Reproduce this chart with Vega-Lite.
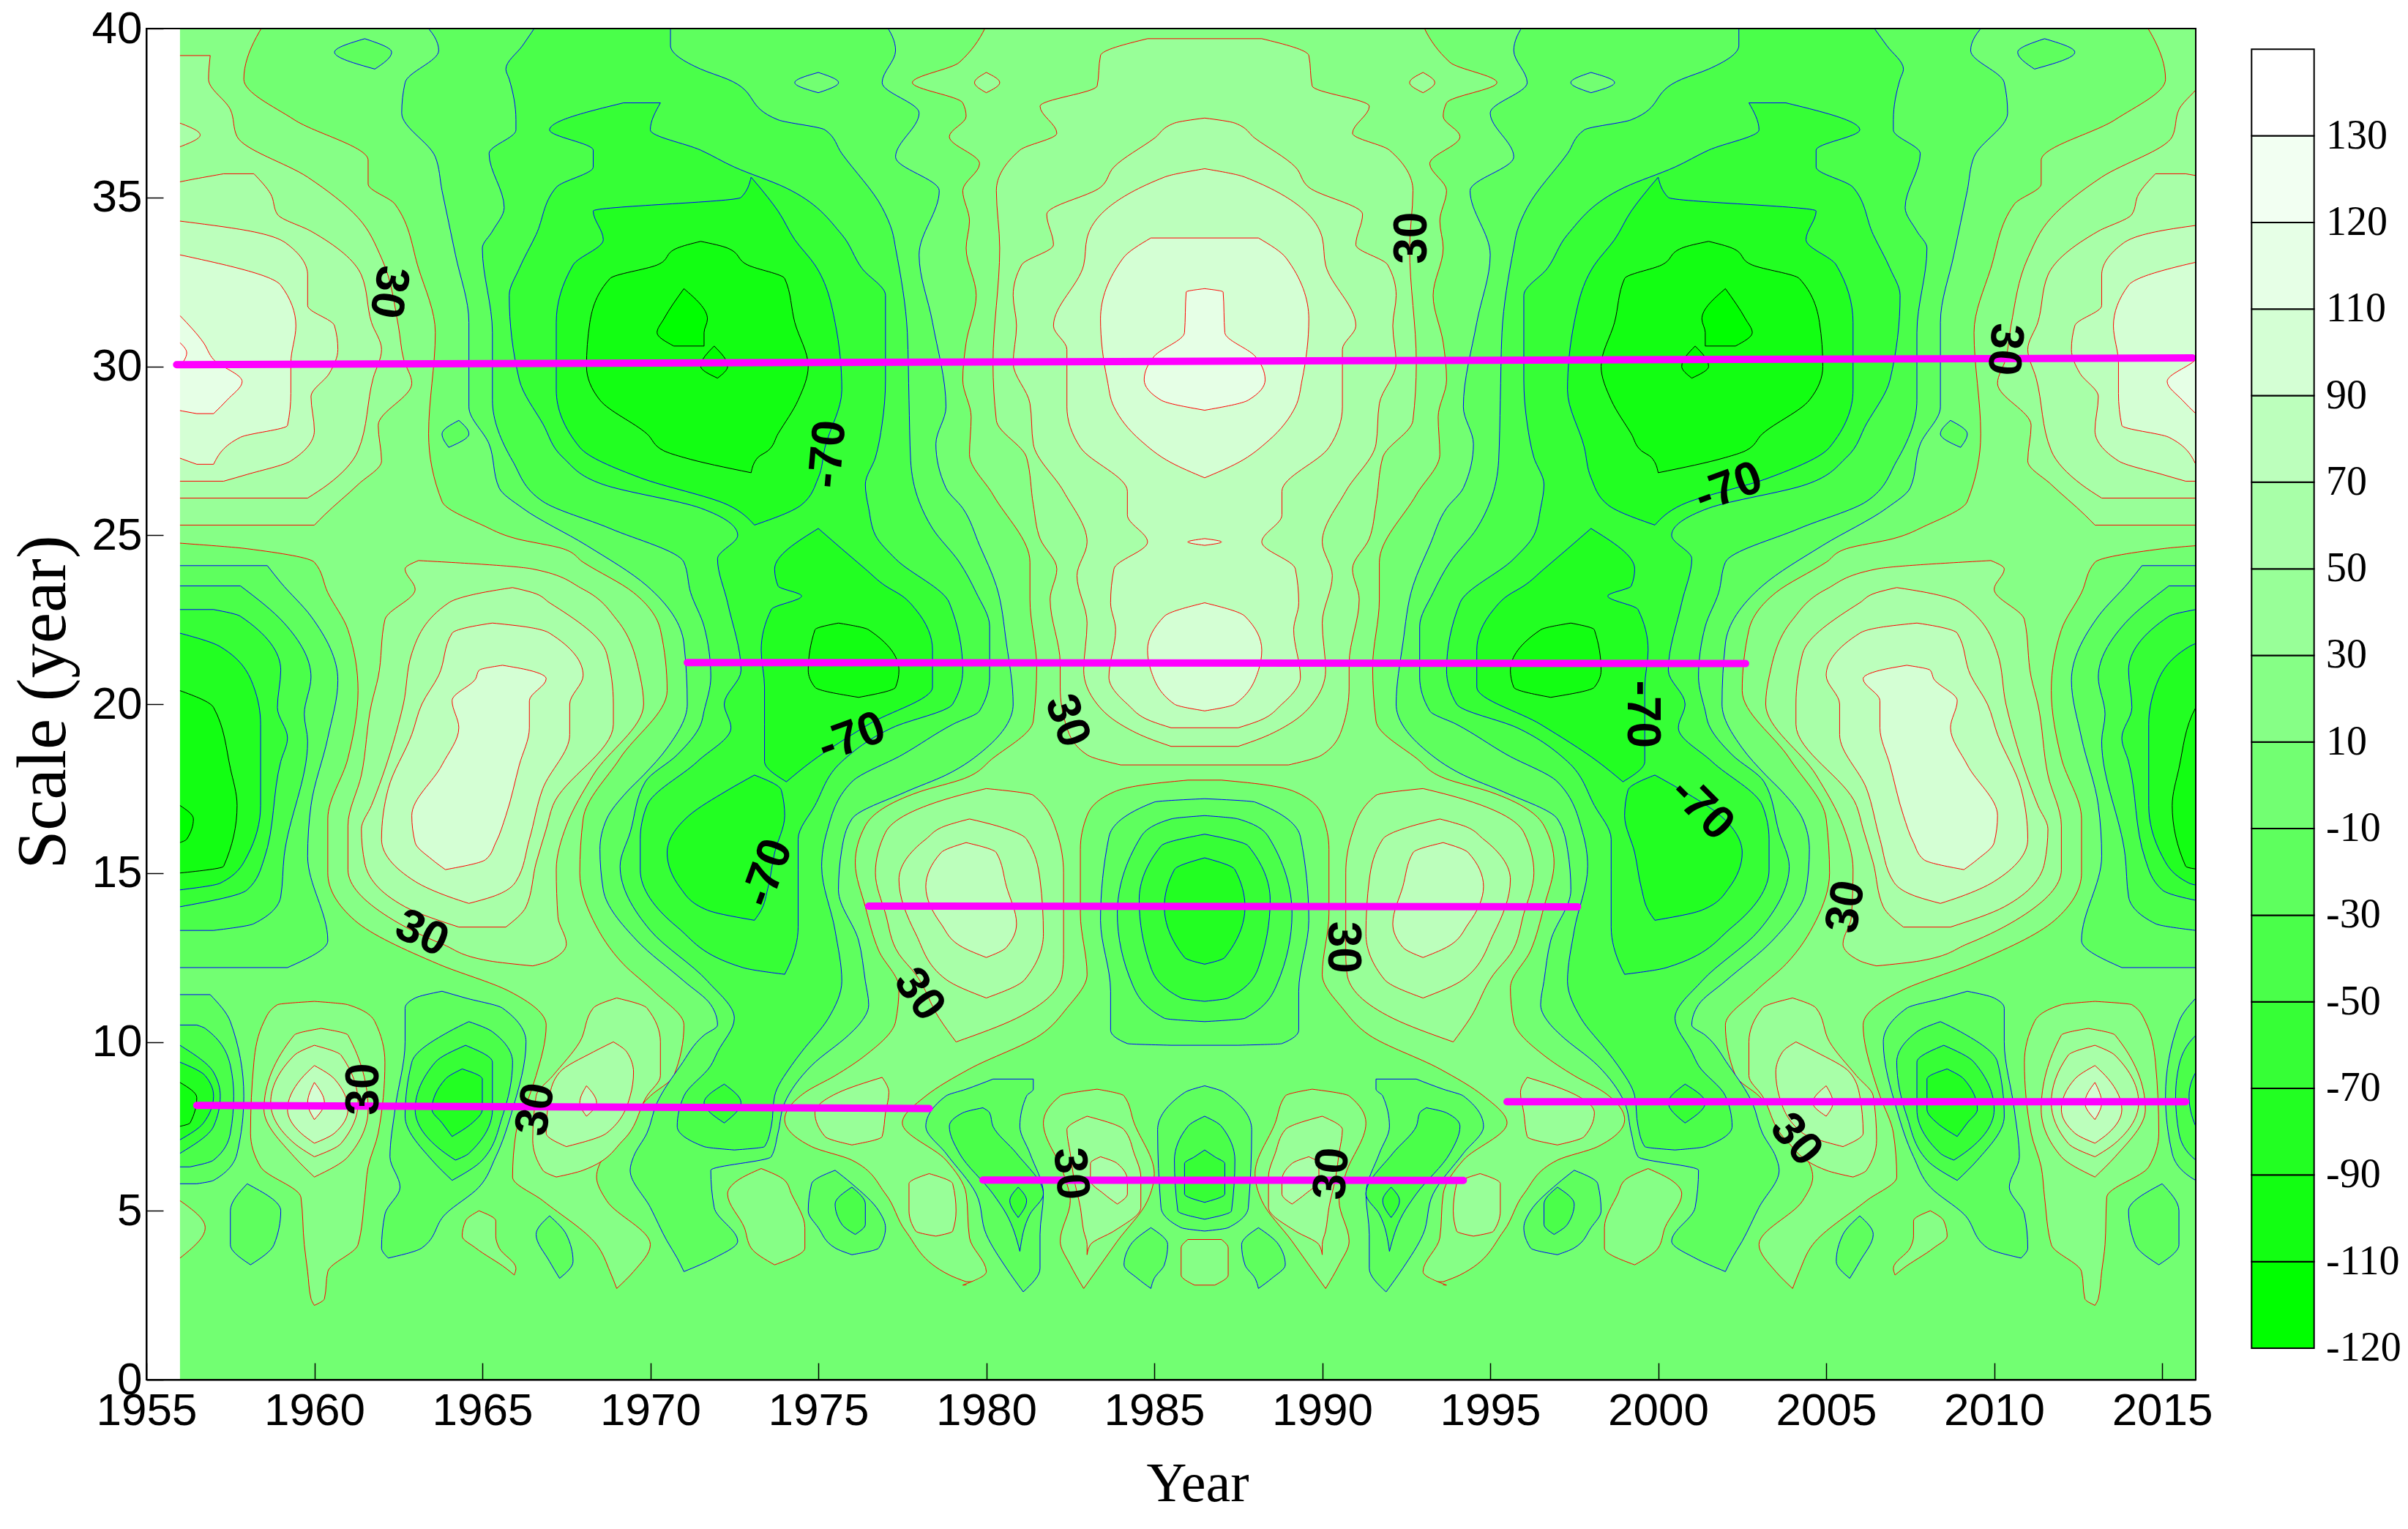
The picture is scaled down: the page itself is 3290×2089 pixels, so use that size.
{"$schema":"https://vega.github.io/schema/vega-lite/v6.json","width":2800,"height":1846,"autosize":{"type":"none"},"padding":{"left":200,"top":39,"right":290,"bottom":204},"background":"white","layer":[{"layer":[
{"data":{"values":[{"x":1955,"x2":2016,"y":0,"y2":40}]},"mark":{"type":"rect","fill":"#72ff72"},"encoding":{"x":{"field":"x","type":"quantitative","title":"Year","scale":{"domain":[1955,2016],"nice":false,"zero":false},"axis":{"values":[1955,1960,1965,1970,1975,1980,1985,1990,1995,2000,2005,2010,2015],"format":"d","grid":false,"zindex":1,"tickSize":-23,"tickColor":"black","tickWidth":1.5,"domainColor":"black","domainWidth":2,"labelColor":"black","labelFont":"Liberation Sans","labelFontSize":62,"labelPadding":35,"labelOverlap":false,"labelBound":false,"labelFlush":false,"titleFont":"Liberation Serif","titleFontWeight":"normal","titleFontSize":76,"titleColor":"black","titleX":1436,"titleY":142,"titleBaseline":"middle"}},"x2":{"field":"x2"},"y":{"field":"y","type":"quantitative","title":"Scale (year)","scale":{"domain":[0,40],"nice":false,"zero":false},"axis":{"values":[0,5,10,15,20,25,30,35,40],"grid":false,"zindex":1,"tickSize":-23,"tickColor":"black","tickWidth":1.5,"domainColor":"black","domainWidth":2,"labelColor":"black","labelFont":"Liberation Sans","labelFontSize":62,"labelPadding":29,"labelOverlap":false,"labelBound":false,"labelFlush":false,"titleFont":"Liberation Serif","titleFontWeight":"normal","titleFontSize":95,"titleColor":"black","titleX":-141,"titleY":920,"titleBaseline":"middle"}},"y2":{"field":"y2"}}},
{"data":{"values":[
{"g":1,"l":10,"y":41,"a":1955,"b":1959.1},{"g":1,"l":10,"y":38.5,"a":1955,"b":1957.9},{"g":1,"l":10,"y":37.3,"a":1955,"b":1959.4},{"g":1,"l":10,"y":36.1,"a":1955,"b":1961.6},{"g":1,"l":10,"y":35.4,"a":1955,"b":1961.6},{"g":1,"l":10,"y":34.8,"a":1955,"b":1962.4},{"g":1,"l":10,"y":32.9,"a":1955,"b":1963.1},{"g":1,"l":10,"y":31,"a":1955,"b":1963.6},{"g":1,"l":10,"y":28,"a":1955,"b":1963.4},{"g":1,"l":10,"y":26,"a":1955,"b":1963.8},{"g":1,"l":10,"y":25.3,"a":1955,"b":1965},{"g":1,"l":10,"y":24.9,"a":1955,"b":1966},{"g":1,"l":10,"y":24.6,"a":1958,"b":1967.4},{"g":1,"l":10,"y":24.2,"a":1960,"b":1968},{"g":1,"l":10,"y":23.3,"a":1960.4,"b":1969.5},{"g":1,"l":10,"y":22.2,"a":1961,"b":1970.3},{"g":1,"l":10,"y":20.4,"a":1961.3,"b":1970.5},{"g":1,"l":10,"y":18.4,"a":1961,"b":1969.1},{"g":1,"l":10,"y":16.6,"a":1960.4,"b":1968},{"g":1,"l":10,"y":15,"a":1960.4,"b":1967.9},{"g":1,"l":10,"y":13.6,"a":1961.2,"b":1968.3},{"g":1,"l":10,"y":12.3,"a":1963.7,"b":1969.2},{"g":1,"l":10,"y":11.5,"a":1965.8,"b":1970.1},{"g":1,"l":10,"y":10.5,"a":1966.9,"b":1971},{"g":1,"l":10,"y":9,"a":1966.6,"b":1970.7},{"g":1,"l":10,"y":8.4,"a":1966.4,"b":1970},{"g":1,"l":10,"y":7.3,"a":1966,"b":1969.1},{"g":1,"l":10,"y":6,"a":1965.9,"b":1968.4},{"g":1,"l":10,"y":5.3,"a":1966.8,"b":1968.7},{"g":1,"l":10,"y":4,"a":1968.4,"b":1970},{"g":1,"l":10,"y":3.2,"a":1968.8,"b":1969.5},{"g":1,"l":10,"y":2.7,"a":1969,"b":1969},
{"g":2,"l":10,"y":41,"a":2013.9,"b":2018},{"g":2,"l":10,"y":38.5,"a":2015.1,"b":2018},{"g":2,"l":10,"y":37.3,"a":2013.6,"b":2018},{"g":2,"l":10,"y":36.1,"a":2011.4,"b":2018},{"g":2,"l":10,"y":35.4,"a":2011.4,"b":2018},{"g":2,"l":10,"y":34.8,"a":2010.6,"b":2018},{"g":2,"l":10,"y":32.9,"a":2009.9,"b":2018},{"g":2,"l":10,"y":31,"a":2009.4,"b":2018},{"g":2,"l":10,"y":28,"a":2009.6,"b":2018},{"g":2,"l":10,"y":26,"a":2009.2,"b":2018},{"g":2,"l":10,"y":25.3,"a":2008,"b":2018},{"g":2,"l":10,"y":24.9,"a":2007,"b":2018},{"g":2,"l":10,"y":24.6,"a":2005.6,"b":2015},{"g":2,"l":10,"y":24.2,"a":2005,"b":2013},{"g":2,"l":10,"y":23.3,"a":2003.5,"b":2012.6},{"g":2,"l":10,"y":22.2,"a":2002.7,"b":2012},{"g":2,"l":10,"y":20.4,"a":2002.5,"b":2011.7},{"g":2,"l":10,"y":18.4,"a":2003.9,"b":2012},{"g":2,"l":10,"y":16.6,"a":2005,"b":2012.6},{"g":2,"l":10,"y":15,"a":2005.1,"b":2012.6},{"g":2,"l":10,"y":13.6,"a":2004.7,"b":2011.8},{"g":2,"l":10,"y":12.3,"a":2003.8,"b":2009.3},{"g":2,"l":10,"y":11.5,"a":2002.9,"b":2007.2},{"g":2,"l":10,"y":10.5,"a":2002,"b":2006.1},{"g":2,"l":10,"y":9,"a":2002.3,"b":2006.4},{"g":2,"l":10,"y":8.4,"a":2003,"b":2006.6},{"g":2,"l":10,"y":7.3,"a":2003.9,"b":2007},{"g":2,"l":10,"y":6,"a":2004.6,"b":2007.1},{"g":2,"l":10,"y":5.3,"a":2004.3,"b":2006.2},{"g":2,"l":10,"y":4,"a":2003,"b":2004.6},{"g":2,"l":10,"y":3.2,"a":2003.5,"b":2004.2},{"g":2,"l":10,"y":2.7,"a":2004,"b":2004},
{"g":3,"l":10,"y":41,"a":1980.3,"b":1992.7},{"g":3,"l":10,"y":39,"a":1979.2,"b":1993.8},{"g":3,"l":10,"y":38.4,"a":1977.8,"b":1995.2},{"g":3,"l":10,"y":37.8,"a":1979.3,"b":1993.7},{"g":3,"l":10,"y":37.4,"a":1979.4,"b":1993.6},{"g":3,"l":10,"y":36.8,"a":1978.9,"b":1994.1},{"g":3,"l":10,"y":36,"a":1979.8,"b":1993.2},{"g":3,"l":10,"y":35.2,"a":1979.3,"b":1993.7},{"g":3,"l":10,"y":34.3,"a":1979.5,"b":1993.5},{"g":3,"l":10,"y":33.5,"a":1979.4,"b":1993.6},{"g":3,"l":10,"y":32.1,"a":1979.7,"b":1993.3},{"g":3,"l":10,"y":30.7,"a":1979.4,"b":1993.6},{"g":3,"l":10,"y":29.6,"a":1979.3,"b":1993.7},{"g":3,"l":10,"y":28.5,"a":1979.55,"b":1993.45},{"g":3,"l":10,"y":27.4,"a":1979.5,"b":1993.5},{"g":3,"l":10,"y":26.2,"a":1980.2,"b":1992.8},{"g":3,"l":10,"y":24.2,"a":1981.3,"b":1991.7},{"g":3,"l":10,"y":23.1,"a":1981.3,"b":1991.7},{"g":3,"l":10,"y":21.1,"a":1981.5,"b":1991.5},{"g":3,"l":10,"y":19.5,"a":1981.4,"b":1991.6},{"g":3,"l":10,"y":18.4,"a":1980.2,"b":1992.8},{"g":3,"l":10,"y":17.8,"a":1979.35,"b":1993.65},{"g":3,"l":10,"y":17.4,"a":1978,"b":1995},{"g":3,"l":10,"y":16.4,"a":1976.4,"b":1996.6},{"g":3,"l":10,"y":15.3,"a":1976.1,"b":1996.9},{"g":3,"l":10,"y":14,"a":1976.4,"b":1996.6},{"g":3,"l":10,"y":12.7,"a":1976.8,"b":1996.2},{"g":3,"l":10,"y":11.6,"a":1977.4,"b":1995.6},{"g":3,"l":10,"y":10.6,"a":1977.3,"b":1995.7},{"g":3,"l":10,"y":9.6,"a":1976.4,"b":1996.6},{"g":3,"l":10,"y":9,"a":1975.5,"b":1997.5},{"g":3,"l":10,"y":8.5,"a":1974.6,"b":1998.4},{"g":3,"l":10,"y":7.7,"a":1974,"b":1999},{"g":3,"l":10,"y":6.9,"a":1974.8,"b":1998.2},{"g":3,"l":10,"y":6.5,"a":1976,"b":1997},{"g":3,"l":10,"y":5.5,"a":1977,"b":1996},{"g":3,"l":10,"y":4.4,"a":1977.6,"b":1995.4},{"g":3,"l":10,"y":3.1,"a":1978.9,"b":1994.1},{"g":3,"l":10,"y":2.9,"a":1979.4,"b":1993.6},
{"g":4,"l":0,"y":17.75,"a":1986,"b":1987},{"g":4,"l":0,"y":17.65,"a":1985,"b":1988},{"g":4,"l":0,"y":17.4,"a":1983.8,"b":1989.2},{"g":4,"l":0,"y":16.7,"a":1983,"b":1990},{"g":4,"l":0,"y":15.7,"a":1982.8,"b":1990.2},{"g":4,"l":0,"y":13.8,"a":1982.8,"b":1990.2},{"g":4,"l":0,"y":12,"a":1983,"b":1990},{"g":4,"l":0,"y":11,"a":1982.4,"b":1990.6},{"g":4,"l":0,"y":10.2,"a":1981.6,"b":1991.4},{"g":4,"l":0,"y":9.2,"a":1979.5,"b":1993.5},{"g":4,"l":0,"y":8.4,"a":1978.2,"b":1994.8},{"g":4,"l":0,"y":7.6,"a":1977.5,"b":1995.5},{"g":4,"l":0,"y":6.5,"a":1978.8,"b":1994.2},{"g":4,"l":0,"y":5.5,"a":1979.4,"b":1993.6},{"g":4,"l":0,"y":4.2,"a":1979.5,"b":1993.5},{"g":4,"l":0,"y":3.2,"a":1980,"b":1993},{"g":4,"l":0,"y":2.8,"a":1979.3,"b":1993.7},
{"g":5,"l":1,"y":3,"a":1979.8,"b":1993.2},{"g":5,"l":1,"y":2.6,"a":1979,"b":1994},
{"g":6,"l":10,"y":11.2,"a":1960,"b":1960},{"g":6,"l":10,"y":11.1,"a":1958.9,"b":1961},{"g":6,"l":10,"y":10.6,"a":1958.5,"b":1961.8},{"g":6,"l":10,"y":9.4,"a":1958.2,"b":1962.1},{"g":6,"l":10,"y":7.3,"a":1958.1,"b":1961.9},{"g":6,"l":10,"y":6.3,"a":1958.4,"b":1961.6},{"g":6,"l":10,"y":5.4,"a":1959.6,"b":1961.5},{"g":6,"l":10,"y":4,"a":1959.7,"b":1961.3},{"g":6,"l":10,"y":3.2,"a":1959.8,"b":1960.4},{"g":6,"l":10,"y":2.4,"a":1959.9,"b":1960.3},{"g":6,"l":10,"y":2.2,"a":1960,"b":1960},
{"g":7,"l":10,"y":11.2,"a":2013,"b":2013},{"g":7,"l":10,"y":11.1,"a":2012,"b":2014.1},{"g":7,"l":10,"y":10.6,"a":2011.2,"b":2014.5},{"g":7,"l":10,"y":9.4,"a":2010.9,"b":2014.8},{"g":7,"l":10,"y":7.3,"a":2011.1,"b":2014.9},{"g":7,"l":10,"y":6.3,"a":2011.4,"b":2014.6},{"g":7,"l":10,"y":5.4,"a":2011.5,"b":2013.35},{"g":7,"l":10,"y":4,"a":2011.7,"b":2013.3},{"g":7,"l":10,"y":3.2,"a":2012.6,"b":2013.2},{"g":7,"l":10,"y":2.4,"a":2012.7,"b":2013.1},{"g":7,"l":10,"y":2.2,"a":2013,"b":2013},
{"g":8,"l":10,"y":6.25,"a":1973.3,"b":1973.3},{"g":8,"l":10,"y":5.9,"a":1972.6,"b":1974},{"g":8,"l":10,"y":5.5,"a":1972.3,"b":1974.2},{"g":8,"l":10,"y":4.5,"a":1972.8,"b":1974.6},{"g":8,"l":10,"y":3.9,"a":1973,"b":1974.6},{"g":8,"l":10,"y":3.4,"a":1973.7,"b":1973.7},
{"g":9,"l":10,"y":6.25,"a":1999.7,"b":1999.7},{"g":9,"l":10,"y":5.9,"a":1999,"b":2000.4},{"g":9,"l":10,"y":5.5,"a":1998.8,"b":2000.7},{"g":9,"l":10,"y":4.5,"a":1998.4,"b":2000.2},{"g":9,"l":10,"y":3.9,"a":1998.4,"b":2000},{"g":9,"l":10,"y":3.4,"a":1999.3,"b":1999.3},
{"g":10,"l":10,"y":5,"a":1964.9,"b":1964.9},{"g":10,"l":10,"y":4.7,"a":1964.5,"b":1965.4},{"g":10,"l":10,"y":4.25,"a":1964.4,"b":1965.4},{"g":10,"l":10,"y":3.9,"a":1964.8,"b":1965.5},{"g":10,"l":10,"y":3.3,"a":1965.7,"b":1966},{"g":10,"l":10,"y":3.1,"a":1965.95,"b":1965.95},
{"g":11,"l":10,"y":5,"a":2008.1,"b":2008.1},{"g":11,"l":10,"y":4.7,"a":2007.6,"b":2008.5},{"g":11,"l":10,"y":4.25,"a":2007.6,"b":2008.6},{"g":11,"l":10,"y":3.9,"a":2007.5,"b":2008.2},{"g":11,"l":10,"y":3.3,"a":2007,"b":2007.3},{"g":11,"l":10,"y":3.1,"a":2007.05,"b":2007.05},
{"g":12,"l":10,"y":5.3,"a":1955,"b":1956},{"g":12,"l":10,"y":4.5,"a":1955,"b":1956.75},{"g":12,"l":10,"y":3.6,"a":1955,"b":1956},
{"g":13,"l":10,"y":5.3,"a":2017,"b":2018},{"g":13,"l":10,"y":4.5,"a":2016.25,"b":2018},{"g":13,"l":10,"y":3.6,"a":2017,"b":2018},
{"g":14,"l":10,"y":8.6,"a":1983.3,"b":1983.3},{"g":14,"l":10,"y":8.4,"a":1982.2,"b":1984.1},{"g":14,"l":10,"y":7.6,"a":1981.7,"b":1984.4},{"g":14,"l":10,"y":6.1,"a":1982.3,"b":1985},{"g":14,"l":10,"y":5.3,"a":1982.5,"b":1984.8},{"g":14,"l":10,"y":4.1,"a":1982.2,"b":1983.9},{"g":14,"l":10,"y":3.4,"a":1982.5,"b":1983.4},{"g":14,"l":10,"y":2.7,"a":1982.9,"b":1982.9},
{"g":15,"l":10,"y":8.6,"a":1989.7,"b":1989.7},{"g":15,"l":10,"y":8.4,"a":1988.9,"b":1990.8},{"g":15,"l":10,"y":7.6,"a":1988.6,"b":1991.3},{"g":15,"l":10,"y":6.1,"a":1988,"b":1990.7},{"g":15,"l":10,"y":5.3,"a":1988.2,"b":1990.5},{"g":15,"l":10,"y":4.1,"a":1989.1,"b":1990.8},{"g":15,"l":10,"y":3.4,"a":1989.6,"b":1990.5},{"g":15,"l":10,"y":2.7,"a":1990.1,"b":1990.1},
{"g":16,"l":10,"y":4.15,"a":1986,"b":1987},{"g":16,"l":10,"y":3.9,"a":1985.8,"b":1987.2},{"g":16,"l":10,"y":3.1,"a":1985.8,"b":1987.2},{"g":16,"l":10,"y":2.8,"a":1986.2,"b":1986.8},
{"g":20,"l":-10,"y":41,"a":1962.2,"b":1976.2},{"g":20,"l":-10,"y":39.35,"a":1963.7,"b":1977.3},{"g":20,"l":-10,"y":38.4,"a":1962.7,"b":1976.9},{"g":20,"l":-10,"y":37.5,"a":1962.6,"b":1978},{"g":20,"l":-10,"y":36.2,"a":1963.6,"b":1977.3},{"g":20,"l":-10,"y":35.2,"a":1963.8,"b":1978.6},{"g":20,"l":-10,"y":33.3,"a":1964.2,"b":1978},{"g":20,"l":-10,"y":31.3,"a":1964.6,"b":1978.4},{"g":20,"l":-10,"y":28.8,"a":1964.6,"b":1978.8},{"g":20,"l":-10,"y":27.7,"a":1965.2,"b":1978.5},{"g":20,"l":-10,"y":26.4,"a":1965.5,"b":1978.8},{"g":20,"l":-10,"y":25.8,"a":1966.2,"b":1979.3},{"g":20,"l":-10,"y":24.7,"a":1968.1,"b":1979.8},{"g":20,"l":-10,"y":23.5,"a":1969.9,"b":1980.3},{"g":20,"l":-10,"y":21.8,"a":1971,"b":1980.6},{"g":20,"l":-10,"y":20,"a":1971.1,"b":1980.8},{"g":20,"l":-10,"y":18.7,"a":1970.5,"b":1980},{"g":20,"l":-10,"y":17.9,"a":1969.8,"b":1978.8},{"g":20,"l":-10,"y":17.4,"a":1969.3,"b":1977.6},{"g":20,"l":-10,"y":16.6,"a":1968.7,"b":1976},{"g":20,"l":-10,"y":15.7,"a":1968.5,"b":1975.7},{"g":20,"l":-10,"y":14.5,"a":1968.6,"b":1975.6},{"g":20,"l":-10,"y":13,"a":1969.6,"b":1976.2},{"g":20,"l":-10,"y":11.8,"a":1971,"b":1976.4},{"g":20,"l":-10,"y":11.1,"a":1971.8,"b":1976.5},{"g":20,"l":-10,"y":10.5,"a":1972,"b":1976.2},{"g":20,"l":-10,"y":10.2,"a":1971.6,"b":1975.9},{"g":20,"l":-10,"y":9.3,"a":1970.9,"b":1974.8},{"g":20,"l":-10,"y":8.2,"a":1970.2,"b":1974},{"g":20,"l":-10,"y":7.3,"a":1969.9,"b":1973.8},{"g":20,"l":-10,"y":6.6,"a":1969.5,"b":1973.6},{"g":20,"l":-10,"y":6.2,"a":1969.4,"b":1971.8},{"g":20,"l":-10,"y":5.1,"a":1970,"b":1971.9},{"g":20,"l":-10,"y":4.1,"a":1970.5,"b":1972.6},{"g":20,"l":-10,"y":3.6,"a":1970.8,"b":1971.9},{"g":20,"l":-10,"y":3.2,"a":1971,"b":1971},
{"g":21,"l":-10,"y":41,"a":1996.8,"b":2010.8},{"g":21,"l":-10,"y":39.35,"a":1995.7,"b":2009.3},{"g":21,"l":-10,"y":38.4,"a":1996.1,"b":2010.3},{"g":21,"l":-10,"y":37.5,"a":1995,"b":2010.4},{"g":21,"l":-10,"y":36.2,"a":1995.7,"b":2009.4},{"g":21,"l":-10,"y":35.2,"a":1994.4,"b":2009.2},{"g":21,"l":-10,"y":33.3,"a":1995,"b":2008.8},{"g":21,"l":-10,"y":31.3,"a":1994.6,"b":2008.4},{"g":21,"l":-10,"y":28.8,"a":1994.2,"b":2008.4},{"g":21,"l":-10,"y":27.7,"a":1994.5,"b":2007.8},{"g":21,"l":-10,"y":26.4,"a":1994.2,"b":2007.5},{"g":21,"l":-10,"y":25.8,"a":1993.7,"b":2006.8},{"g":21,"l":-10,"y":24.7,"a":1993.2,"b":2004.9},{"g":21,"l":-10,"y":23.5,"a":1992.7,"b":2003.1},{"g":21,"l":-10,"y":21.8,"a":1992.4,"b":2002},{"g":21,"l":-10,"y":20,"a":1992.2,"b":2001.9},{"g":21,"l":-10,"y":18.7,"a":1993,"b":2002.5},{"g":21,"l":-10,"y":17.9,"a":1994.2,"b":2003.2},{"g":21,"l":-10,"y":17.4,"a":1995.4,"b":2003.7},{"g":21,"l":-10,"y":16.6,"a":1997,"b":2004.3},{"g":21,"l":-10,"y":15.7,"a":1997.3,"b":2004.5},{"g":21,"l":-10,"y":14.5,"a":1997.4,"b":2004.4},{"g":21,"l":-10,"y":13,"a":1996.8,"b":2003.4},{"g":21,"l":-10,"y":11.8,"a":1996.6,"b":2002},{"g":21,"l":-10,"y":11.1,"a":1996.5,"b":2001.2},{"g":21,"l":-10,"y":10.5,"a":1996.8,"b":2001},{"g":21,"l":-10,"y":10.2,"a":1997.1,"b":2001.4},{"g":21,"l":-10,"y":9.3,"a":1998.2,"b":2002.1},{"g":21,"l":-10,"y":8.2,"a":1999,"b":2002.8},{"g":21,"l":-10,"y":7.3,"a":1999.2,"b":2003.1},{"g":21,"l":-10,"y":6.6,"a":1999.4,"b":2003.5},{"g":21,"l":-10,"y":6.2,"a":2001.2,"b":2003.6},{"g":21,"l":-10,"y":5.1,"a":2001.1,"b":2003},{"g":21,"l":-10,"y":4.1,"a":2000.4,"b":2002.5},{"g":21,"l":-10,"y":3.6,"a":2001.1,"b":2002.2},{"g":21,"l":-10,"y":3.2,"a":2002,"b":2002},
{"g":22,"l":-10,"y":24.1,"a":1955,"b":1958.6},{"g":22,"l":-10,"y":23.6,"a":1955,"b":1959},{"g":22,"l":-10,"y":22.6,"a":1955,"b":1959.9},{"g":22,"l":-10,"y":20.7,"a":1955,"b":1960.7},{"g":22,"l":-10,"y":19,"a":1955,"b":1960.4},{"g":22,"l":-10,"y":17,"a":1955,"b":1959.9},{"g":22,"l":-10,"y":15.5,"a":1955,"b":1959.8},{"g":22,"l":-10,"y":13,"a":1955,"b":1960.4},{"g":22,"l":-10,"y":12.2,"a":1955,"b":1959.2},
{"g":23,"l":-10,"y":24.1,"a":2014.4,"b":2018},{"g":23,"l":-10,"y":23.6,"a":2014,"b":2018},{"g":23,"l":-10,"y":22.6,"a":2013.1,"b":2018},{"g":23,"l":-10,"y":20.7,"a":2012.3,"b":2018},{"g":23,"l":-10,"y":19,"a":2012.6,"b":2018},{"g":23,"l":-10,"y":17,"a":2013.1,"b":2018},{"g":23,"l":-10,"y":15.5,"a":2013.2,"b":2018},{"g":23,"l":-10,"y":13,"a":2012.6,"b":2018},{"g":23,"l":-10,"y":12.2,"a":2013.8,"b":2018},
{"g":24,"l":-10,"y":11.4,"a":1955,"b":1956.9},{"g":24,"l":-10,"y":10.6,"a":1955,"b":1957.5},{"g":24,"l":-10,"y":8.4,"a":1955,"b":1957.9},{"g":24,"l":-10,"y":6.7,"a":1955,"b":1957.7},{"g":24,"l":-10,"y":5.9,"a":1955,"b":1957},{"g":24,"l":-10,"y":5.8,"a":1955,"b":1956.5},
{"g":25,"l":-10,"y":11.4,"a":2016.1,"b":2018},{"g":25,"l":-10,"y":10.6,"a":2015.5,"b":2018},{"g":25,"l":-10,"y":8.4,"a":2015.1,"b":2018},{"g":25,"l":-10,"y":6.7,"a":2015.3,"b":2018},{"g":25,"l":-10,"y":5.9,"a":2016,"b":2018},{"g":25,"l":-10,"y":5.8,"a":2016.5,"b":2018},
{"g":26,"l":-10,"y":11.5,"a":1963.8,"b":1963.8},{"g":26,"l":-10,"y":11.3,"a":1963,"b":1964.5},{"g":26,"l":-10,"y":11,"a":1962.7,"b":1965.6},{"g":26,"l":-10,"y":10,"a":1962.7,"b":1966.3},{"g":26,"l":-10,"y":8,"a":1962.4,"b":1965.9},{"g":26,"l":-10,"y":6.6,"a":1962.25,"b":1965.4},{"g":26,"l":-10,"y":5.7,"a":1962.55,"b":1964.9},{"g":26,"l":-10,"y":4.9,"a":1962.1,"b":1963.9},{"g":26,"l":-10,"y":3.9,"a":1962,"b":1963.2},{"g":26,"l":-10,"y":3.6,"a":1962.2,"b":1962.2},
{"g":27,"l":-10,"y":11.5,"a":2009.2,"b":2009.2},{"g":27,"l":-10,"y":11.3,"a":2008.5,"b":2010},{"g":27,"l":-10,"y":11,"a":2007.4,"b":2010.3},{"g":27,"l":-10,"y":10,"a":2006.7,"b":2010.3},{"g":27,"l":-10,"y":8,"a":2007.1,"b":2010.6},{"g":27,"l":-10,"y":6.6,"a":2007.6,"b":2010.75},{"g":27,"l":-10,"y":5.7,"a":2008.1,"b":2010.45},{"g":27,"l":-10,"y":4.9,"a":2009.1,"b":2010.9},{"g":27,"l":-10,"y":3.9,"a":2009.8,"b":2011},{"g":27,"l":-10,"y":3.6,"a":2010.8,"b":2010.8},
{"g":28,"l":-10,"y":39.7,"a":1961.5,"b":1961.5},{"g":28,"l":-10,"y":39.3,"a":1960.6,"b":1962.3},{"g":28,"l":-10,"y":38.8,"a":1961.8,"b":1961.8},
{"g":29,"l":-10,"y":39.7,"a":2011.5,"b":2011.5},{"g":29,"l":-10,"y":39.3,"a":2010.7,"b":2012.4},{"g":29,"l":-10,"y":38.8,"a":2011.2,"b":2011.2},
{"g":30,"l":-10,"y":5.8,"a":1958,"b":1958},{"g":30,"l":-10,"y":5,"a":1957.5,"b":1959},{"g":30,"l":-10,"y":4,"a":1957.5,"b":1958.8},{"g":30,"l":-10,"y":3.4,"a":1958.1,"b":1958.1},
{"g":31,"l":-10,"y":5.8,"a":2015,"b":2015},{"g":31,"l":-10,"y":5,"a":2014,"b":2015.5},{"g":31,"l":-10,"y":4,"a":2014.2,"b":2015.5},{"g":31,"l":-10,"y":3.4,"a":2014.9,"b":2014.9},
{"g":32,"l":-10,"y":4.85,"a":1967,"b":1967},{"g":32,"l":-10,"y":4.3,"a":1966.6,"b":1967.5},{"g":32,"l":-10,"y":3.5,"a":1967,"b":1967.7},{"g":32,"l":-10,"y":3,"a":1967.3,"b":1967.3},
{"g":33,"l":-10,"y":4.85,"a":2006,"b":2006},{"g":33,"l":-10,"y":4.3,"a":2005.5,"b":2006.4},{"g":33,"l":-10,"y":3.5,"a":2005.3,"b":2006},{"g":33,"l":-10,"y":3,"a":2005.7,"b":2005.7},
{"g":34,"l":-10,"y":6.2,"a":1975.5,"b":1975.5},{"g":34,"l":-10,"y":5.8,"a":1974.8,"b":1976},{"g":34,"l":-10,"y":5,"a":1974.7,"b":1976.8},{"g":34,"l":-10,"y":4.5,"a":1975,"b":1977},{"g":34,"l":-10,"y":3.9,"a":1975.5,"b":1976.8},{"g":34,"l":-10,"y":3.7,"a":1976,"b":1976},
{"g":35,"l":-10,"y":6.2,"a":1997.5,"b":1997.5},{"g":35,"l":-10,"y":5.8,"a":1997,"b":1998.2},{"g":35,"l":-10,"y":5,"a":1996.2,"b":1998.3},{"g":35,"l":-10,"y":4.5,"a":1996,"b":1998},{"g":35,"l":-10,"y":3.9,"a":1996.2,"b":1997.5},{"g":35,"l":-10,"y":3.7,"a":1997,"b":1997},
{"g":36,"l":-10,"y":8.9,"a":1980.2,"b":1981.4},{"g":36,"l":-10,"y":8.6,"a":1979.4,"b":1981.4},{"g":36,"l":-10,"y":8.4,"a":1978.8,"b":1981.2},{"g":36,"l":-10,"y":7.5,"a":1978.2,"b":1981},{"g":36,"l":-10,"y":6.7,"a":1978.8,"b":1981.3},{"g":36,"l":-10,"y":5.5,"a":1979.7,"b":1981.7},{"g":36,"l":-10,"y":4.3,"a":1980,"b":1981.6},{"g":36,"l":-10,"y":3.3,"a":1980.6,"b":1981.6},{"g":36,"l":-10,"y":2.6,"a":1981.1,"b":1981.1},
{"g":37,"l":-10,"y":8.9,"a":1991.6,"b":1992.8},{"g":37,"l":-10,"y":8.6,"a":1991.6,"b":1993.6},{"g":37,"l":-10,"y":8.4,"a":1991.8,"b":1994.2},{"g":37,"l":-10,"y":7.5,"a":1992,"b":1994.8},{"g":37,"l":-10,"y":6.7,"a":1991.7,"b":1994.2},{"g":37,"l":-10,"y":5.5,"a":1991.3,"b":1993.3},{"g":37,"l":-10,"y":4.3,"a":1991.4,"b":1993},{"g":37,"l":-10,"y":3.3,"a":1991.4,"b":1992.4},{"g":37,"l":-10,"y":2.6,"a":1991.9,"b":1991.9},
{"g":38,"l":-10,"y":8.7,"a":1986.5,"b":1986.5},{"g":38,"l":-10,"y":8.5,"a":1985.9,"b":1987.1},{"g":38,"l":-10,"y":7.4,"a":1985.1,"b":1987.9},{"g":38,"l":-10,"y":5.1,"a":1985.2,"b":1987.8},{"g":38,"l":-10,"y":4.5,"a":1985.8,"b":1987.2},{"g":38,"l":-10,"y":4.4,"a":1986.5,"b":1986.5},
{"g":39,"l":-10,"y":4.5,"a":1984.9,"b":1984.9},{"g":39,"l":-10,"y":4,"a":1984.3,"b":1985.4},{"g":39,"l":-10,"y":3.4,"a":1984.1,"b":1985.3},{"g":39,"l":-10,"y":3,"a":1984.5,"b":1985},{"g":39,"l":-10,"y":2.7,"a":1984.9,"b":1984.9},
{"g":40,"l":-10,"y":4.5,"a":1988.1,"b":1988.1},{"g":40,"l":-10,"y":4,"a":1987.6,"b":1988.7},{"g":40,"l":-10,"y":3.4,"a":1987.7,"b":1988.9},{"g":40,"l":-10,"y":3,"a":1988,"b":1988.5},{"g":40,"l":-10,"y":2.7,"a":1988.1,"b":1988.1},
{"g":41,"l":-10,"y":17.2,"a":1986.5,"b":1986.5},{"g":41,"l":-10,"y":17.1,"a":1985,"b":1988},{"g":41,"l":-10,"y":16.07,"a":1983.65,"b":1989.35},{"g":41,"l":-10,"y":13.6,"a":1983.4,"b":1989.6},{"g":41,"l":-10,"y":11.5,"a":1983.7,"b":1989.3},{"g":41,"l":-10,"y":10.35,"a":1983.7,"b":1989.3},{"g":41,"l":-10,"y":9.95,"a":1984.2,"b":1988.8},{"g":41,"l":-10,"y":9.9,"a":1985.5,"b":1987.5},
{"g":42,"l":-10,"y":28.4,"a":1964.3,"b":1964.3},{"g":42,"l":-10,"y":28,"a":1963.8,"b":1964.6},{"g":42,"l":-10,"y":27.6,"a":1964,"b":1964},
{"g":43,"l":-10,"y":28.4,"a":2008.7,"b":2008.7},{"g":43,"l":-10,"y":28,"a":2008.4,"b":2009.2},{"g":43,"l":-10,"y":27.6,"a":2009,"b":2009},
{"g":44,"l":-1,"y":38.7,"a":1975,"b":1975},{"g":44,"l":-1,"y":38.4,"a":1974.3,"b":1975.6},{"g":44,"l":-1,"y":38.1,"a":1975,"b":1975},
{"g":45,"l":-1,"y":38.7,"a":1998,"b":1998},{"g":45,"l":-1,"y":38.4,"a":1997.4,"b":1998.7},{"g":45,"l":-1,"y":38.1,"a":1998,"b":1998},
{"g":50,"l":-30,"y":41,"a":1967.2,"b":1970.6},{"g":50,"l":-30,"y":39.5,"a":1966.2,"b":1970.6},{"g":50,"l":-30,"y":38.8,"a":1965.7,"b":1971.5},{"g":50,"l":-30,"y":38.5,"a":1965.8,"b":1972.3},{"g":50,"l":-30,"y":37.3,"a":1966,"b":1973.8},{"g":50,"l":-30,"y":37,"a":1966,"b":1975.2},{"g":50,"l":-30,"y":36.3,"a":1965.2,"b":1975.7},{"g":50,"l":-30,"y":34.7,"a":1965.65,"b":1976.9},{"g":50,"l":-30,"y":34,"a":1965.3,"b":1977.2},{"g":50,"l":-30,"y":33.5,"a":1965,"b":1977.3},{"g":50,"l":-30,"y":31,"a":1965.3,"b":1977.65},{"g":50,"l":-30,"y":29,"a":1965.3,"b":1977.7},{"g":50,"l":-30,"y":27.2,"a":1965.9,"b":1977.75},{"g":50,"l":-30,"y":26,"a":1966.8,"b":1978},{"g":50,"l":-30,"y":25.2,"a":1968.8,"b":1978.4},{"g":50,"l":-30,"y":24.2,"a":1971,"b":1979.2},{"g":50,"l":-30,"y":23.3,"a":1971.2,"b":1979.7},{"g":50,"l":-30,"y":22.3,"a":1971.6,"b":1980.1},{"g":50,"l":-30,"y":20.8,"a":1971.8,"b":1980.1},{"g":50,"l":-30,"y":19.8,"a":1971.6,"b":1979.8},{"g":50,"l":-30,"y":19.4,"a":1971.5,"b":1979},{"g":50,"l":-30,"y":18.5,"a":1970.8,"b":1977.5},{"g":50,"l":-30,"y":17.7,"a":1969.85,"b":1976},{"g":50,"l":-30,"y":16.2,"a":1969.4,"b":1975.25},{"g":50,"l":-30,"y":15.2,"a":1969.1,"b":1975.1},{"g":50,"l":-30,"y":13.3,"a":1970,"b":1975.5},{"g":50,"l":-30,"y":11.8,"a":1971.7,"b":1975.7},{"g":50,"l":-30,"y":10.7,"a":1972.5,"b":1975.3},{"g":50,"l":-30,"y":9.7,"a":1972,"b":1974.5},{"g":50,"l":-30,"y":9.3,"a":1971.8,"b":1974.2},{"g":50,"l":-30,"y":8.4,"a":1971,"b":1973.7},{"g":50,"l":-30,"y":7.5,"a":1970.8,"b":1973.6},{"g":50,"l":-30,"y":6.9,"a":1971.6,"b":1973.4},{"g":50,"l":-30,"y":6.8,"a":1972.5,"b":1972.5},
{"g":51,"l":-30,"y":41,"a":2002.4,"b":2005.7},{"g":51,"l":-30,"y":39.5,"a":2002.4,"b":2006.8},{"g":51,"l":-30,"y":38.8,"a":2001.5,"b":2007.3},{"g":51,"l":-30,"y":38.5,"a":2000.7,"b":2007.2},{"g":51,"l":-30,"y":37.3,"a":1999.2,"b":2007},{"g":51,"l":-30,"y":37,"a":1997.8,"b":2007},{"g":51,"l":-30,"y":36.3,"a":1997.3,"b":2007.8},{"g":51,"l":-30,"y":34.7,"a":1996.1,"b":2007.35},{"g":51,"l":-30,"y":34,"a":1995.8,"b":2007.7},{"g":51,"l":-30,"y":33.5,"a":1995.7,"b":2008},{"g":51,"l":-30,"y":31,"a":1995.35,"b":2007.7},{"g":51,"l":-30,"y":29,"a":1995.3,"b":2007.7},{"g":51,"l":-30,"y":27.2,"a":1995.25,"b":2007.1},{"g":51,"l":-30,"y":26,"a":1995,"b":2006.2},{"g":51,"l":-30,"y":25.2,"a":1994.6,"b":2004.2},{"g":51,"l":-30,"y":24.2,"a":1993.8,"b":2002},{"g":51,"l":-30,"y":23.3,"a":1993.3,"b":2001.8},{"g":51,"l":-30,"y":22.3,"a":1992.9,"b":2001.4},{"g":51,"l":-30,"y":20.8,"a":1992.9,"b":2001.2},{"g":51,"l":-30,"y":19.8,"a":1993.2,"b":2001.4},{"g":51,"l":-30,"y":19.4,"a":1994,"b":2001.5},{"g":51,"l":-30,"y":18.5,"a":1995.5,"b":2002.2},{"g":51,"l":-30,"y":17.7,"a":1997,"b":2003.15},{"g":51,"l":-30,"y":16.2,"a":1997.75,"b":2003.6},{"g":51,"l":-30,"y":15.2,"a":1997.9,"b":2003.9},{"g":51,"l":-30,"y":13.3,"a":1997.5,"b":2003},{"g":51,"l":-30,"y":11.8,"a":1997.3,"b":2001.3},{"g":51,"l":-30,"y":10.7,"a":1997.7,"b":2000.5},{"g":51,"l":-30,"y":9.7,"a":1998.5,"b":2001},{"g":51,"l":-30,"y":9.3,"a":1998.8,"b":2001.2},{"g":51,"l":-30,"y":8.4,"a":1999.3,"b":2002},{"g":51,"l":-30,"y":7.5,"a":1999.4,"b":2002.2},{"g":51,"l":-30,"y":6.9,"a":1999.6,"b":2001.4},{"g":51,"l":-30,"y":6.8,"a":2000.5,"b":2000.5},
{"g":52,"l":-30,"y":23.5,"a":1955,"b":1957.8},{"g":52,"l":-30,"y":22.4,"a":1955,"b":1959.1},{"g":52,"l":-30,"y":20.8,"a":1955,"b":1959.9},{"g":52,"l":-30,"y":19.7,"a":1955,"b":1959.7},{"g":52,"l":-30,"y":18.9,"a":1955,"b":1959.8},{"g":52,"l":-30,"y":15.5,"a":1955,"b":1959.1},{"g":52,"l":-30,"y":14.3,"a":1955,"b":1959},{"g":52,"l":-30,"y":13.5,"a":1955,"b":1958.2},{"g":52,"l":-30,"y":13.3,"a":1955,"b":1957},
{"g":53,"l":-30,"y":23.5,"a":2015.2,"b":2018},{"g":53,"l":-30,"y":22.4,"a":2013.9,"b":2018},{"g":53,"l":-30,"y":20.8,"a":2013.1,"b":2018},{"g":53,"l":-30,"y":19.7,"a":2013.3,"b":2018},{"g":53,"l":-30,"y":18.9,"a":2013.2,"b":2018},{"g":53,"l":-30,"y":15.5,"a":2013.9,"b":2018},{"g":53,"l":-30,"y":14.3,"a":2014,"b":2018},{"g":53,"l":-30,"y":13.5,"a":2014.8,"b":2018},{"g":53,"l":-30,"y":13.3,"a":2016,"b":2018},
{"g":54,"l":-30,"y":10.5,"a":1955,"b":1956.5},{"g":54,"l":-30,"y":10.4,"a":1955,"b":1956.75},{"g":54,"l":-30,"y":9.3,"a":1955,"b":1957.5},{"g":54,"l":-30,"y":8.4,"a":1955,"b":1957.6},{"g":54,"l":-30,"y":7.3,"a":1955,"b":1957.5},{"g":54,"l":-30,"y":6.5,"a":1955,"b":1957},{"g":54,"l":-30,"y":6.3,"a":1955,"b":1956.3},
{"g":55,"l":-30,"y":10.5,"a":2016.5,"b":2018},{"g":55,"l":-30,"y":10.4,"a":2016.25,"b":2018},{"g":55,"l":-30,"y":9.3,"a":2015.5,"b":2018},{"g":55,"l":-30,"y":8.4,"a":2015.4,"b":2018},{"g":55,"l":-30,"y":7.3,"a":2015.5,"b":2018},{"g":55,"l":-30,"y":6.5,"a":2016,"b":2018},{"g":55,"l":-30,"y":6.3,"a":2016.7,"b":2018},
{"g":56,"l":-30,"y":10.6,"a":1964.6,"b":1964.6},{"g":56,"l":-30,"y":10.3,"a":1964,"b":1965.3},{"g":56,"l":-30,"y":9.4,"a":1962.9,"b":1965.9},{"g":56,"l":-30,"y":7.8,"a":1962.7,"b":1965.6},{"g":56,"l":-30,"y":6.5,"a":1963.5,"b":1965},{"g":56,"l":-30,"y":5.9,"a":1964.1,"b":1964.1},
{"g":57,"l":-30,"y":10.6,"a":2008.4,"b":2008.4},{"g":57,"l":-30,"y":10.3,"a":2007.7,"b":2009},{"g":57,"l":-30,"y":9.4,"a":2007.1,"b":2010.1},{"g":57,"l":-30,"y":7.8,"a":2007.4,"b":2010.3},{"g":57,"l":-30,"y":6.5,"a":2008,"b":2009.5},{"g":57,"l":-30,"y":5.9,"a":2008.9,"b":2008.9},
{"g":58,"l":-30,"y":5.7,"a":1976,"b":1976},{"g":58,"l":-30,"y":5.2,"a":1975.5,"b":1976.4},{"g":58,"l":-30,"y":4.6,"a":1975.7,"b":1976.4},{"g":58,"l":-30,"y":4.3,"a":1976.1,"b":1976.1},
{"g":59,"l":-30,"y":5.7,"a":1997,"b":1997},{"g":59,"l":-30,"y":5.2,"a":1996.6,"b":1997.5},{"g":59,"l":-30,"y":4.6,"a":1996.6,"b":1997.3},{"g":59,"l":-30,"y":4.3,"a":1996.9,"b":1996.9},
{"g":60,"l":-30,"y":8.05,"a":1979.9,"b":1979.9},{"g":60,"l":-30,"y":7.9,"a":1979.3,"b":1980.1},{"g":60,"l":-30,"y":7.5,"a":1978.9,"b":1980.2},{"g":60,"l":-30,"y":6.7,"a":1979.2,"b":1980.9},{"g":60,"l":-30,"y":5.5,"a":1980.2,"b":1981.7},{"g":60,"l":-30,"y":4.9,"a":1980.6,"b":1981.3},{"g":60,"l":-30,"y":3.8,"a":1981,"b":1981},
{"g":61,"l":-30,"y":8.05,"a":1993.1,"b":1993.1},{"g":61,"l":-30,"y":7.9,"a":1992.9,"b":1993.7},{"g":61,"l":-30,"y":7.5,"a":1992.8,"b":1994.1},{"g":61,"l":-30,"y":6.7,"a":1992.1,"b":1993.8},{"g":61,"l":-30,"y":5.5,"a":1991.3,"b":1992.8},{"g":61,"l":-30,"y":4.9,"a":1991.7,"b":1992.4},{"g":61,"l":-30,"y":3.8,"a":1992,"b":1992},
{"g":62,"l":-30,"y":7.8,"a":1986.5,"b":1986.5},{"g":62,"l":-30,"y":7.5,"a":1986,"b":1987},{"g":62,"l":-30,"y":6.5,"a":1985.6,"b":1987.4},{"g":62,"l":-30,"y":5,"a":1985.7,"b":1987.3},{"g":62,"l":-30,"y":4.75,"a":1986.5,"b":1986.5},
{"g":63,"l":-30,"y":16.7,"a":1986.5,"b":1986.5},{"g":63,"l":-30,"y":16.6,"a":1985.5,"b":1987.5},{"g":63,"l":-30,"y":16.07,"a":1984.6,"b":1988.4},{"g":63,"l":-30,"y":13.8,"a":1983.9,"b":1989.1},{"g":63,"l":-30,"y":11.7,"a":1984.35,"b":1988.65},{"g":63,"l":-30,"y":10.7,"a":1985.3,"b":1987.7},{"g":63,"l":-30,"y":10.6,"a":1986.5,"b":1986.5},
{"g":70,"l":-50,"y":37.8,"a":1969.2,"b":1970.3},{"g":70,"l":-50,"y":37,"a":1967,"b":1970},{"g":70,"l":-50,"y":36.4,"a":1968.3,"b":1971.5},{"g":70,"l":-50,"y":35.9,"a":1968.3,"b":1972.5},{"g":70,"l":-50,"y":35.3,"a":1967.2,"b":1974},{"g":70,"l":-50,"y":33.9,"a":1966.6,"b":1975.7},{"g":70,"l":-50,"y":32.9,"a":1966.1,"b":1976.3},{"g":70,"l":-50,"y":32.1,"a":1965.8,"b":1977},{"g":70,"l":-50,"y":29.6,"a":1966.1,"b":1977},{"g":70,"l":-50,"y":28.3,"a":1966.8,"b":1976.9},{"g":70,"l":-50,"y":27.3,"a":1967.4,"b":1976.7},{"g":70,"l":-50,"y":26.5,"a":1968.6,"b":1976.4},{"g":70,"l":-50,"y":25.8,"a":1971.5,"b":1976.5},{"g":70,"l":-50,"y":25,"a":1972.6,"b":1976.7},{"g":70,"l":-50,"y":24.3,"a":1972,"b":1977.3},{"g":70,"l":-50,"y":23,"a":1972.3,"b":1978.9},{"g":70,"l":-50,"y":21,"a":1972.7,"b":1979.3},{"g":70,"l":-50,"y":20,"a":1972.2,"b":1979},{"g":70,"l":-50,"y":19.3,"a":1972.4,"b":1977.2},{"g":70,"l":-50,"y":18.3,"a":1971.4,"b":1975.7},{"g":70,"l":-50,"y":17,"a":1969.9,"b":1974.9},{"g":70,"l":-50,"y":16,"a":1969.7,"b":1974.4},{"g":70,"l":-50,"y":15.1,"a":1969.7,"b":1974.4},{"g":70,"l":-50,"y":13.4,"a":1970.8,"b":1974.4},{"g":70,"l":-50,"y":12.2,"a":1972.75,"b":1974.1},{"g":70,"l":-50,"y":12,"a":1974,"b":1974},
{"g":71,"l":-50,"y":37.8,"a":2002.7,"b":2003.8},{"g":71,"l":-50,"y":37,"a":2003,"b":2006},{"g":71,"l":-50,"y":36.4,"a":2001.5,"b":2004.7},{"g":71,"l":-50,"y":35.9,"a":2000.5,"b":2004.7},{"g":71,"l":-50,"y":35.3,"a":1999,"b":2005.8},{"g":71,"l":-50,"y":33.9,"a":1997.3,"b":2006.4},{"g":71,"l":-50,"y":32.9,"a":1996.7,"b":2006.9},{"g":71,"l":-50,"y":32.1,"a":1996,"b":2007.2},{"g":71,"l":-50,"y":29.6,"a":1996,"b":2006.9},{"g":71,"l":-50,"y":28.3,"a":1996.1,"b":2006.2},{"g":71,"l":-50,"y":27.3,"a":1996.3,"b":2005.6},{"g":71,"l":-50,"y":26.5,"a":1996.6,"b":2004.4},{"g":71,"l":-50,"y":25.8,"a":1996.5,"b":2001.5},{"g":71,"l":-50,"y":25,"a":1996.3,"b":2000.4},{"g":71,"l":-50,"y":24.3,"a":1995.7,"b":2001},{"g":71,"l":-50,"y":23,"a":1994.1,"b":2000.7},{"g":71,"l":-50,"y":21,"a":1993.7,"b":2000.3},{"g":71,"l":-50,"y":20,"a":1994,"b":2000.8},{"g":71,"l":-50,"y":19.3,"a":1995.8,"b":2000.6},{"g":71,"l":-50,"y":18.3,"a":1997.3,"b":2001.6},{"g":71,"l":-50,"y":17,"a":1998.1,"b":2003.1},{"g":71,"l":-50,"y":16,"a":1998.6,"b":2003.3},{"g":71,"l":-50,"y":15.1,"a":1998.6,"b":2003.3},{"g":71,"l":-50,"y":13.4,"a":1998.6,"b":2002.2},{"g":71,"l":-50,"y":12.2,"a":1998.9,"b":2000.25},{"g":71,"l":-50,"y":12,"a":1999,"b":1999},
{"g":72,"l":-50,"y":22.8,"a":1955,"b":1957},{"g":72,"l":-50,"y":22.6,"a":1955,"b":1957.8},{"g":72,"l":-50,"y":21,"a":1955,"b":1959},{"g":72,"l":-50,"y":19.9,"a":1955,"b":1958.9},{"g":72,"l":-50,"y":19,"a":1955,"b":1959.2},{"g":72,"l":-50,"y":18.3,"a":1955,"b":1959},{"g":72,"l":-50,"y":15.4,"a":1955,"b":1958.5},{"g":72,"l":-50,"y":14.5,"a":1955,"b":1958},{"g":72,"l":-50,"y":14,"a":1955,"b":1956},
{"g":73,"l":-50,"y":22.8,"a":2016,"b":2018},{"g":73,"l":-50,"y":22.6,"a":2015.2,"b":2018},{"g":73,"l":-50,"y":21,"a":2014,"b":2018},{"g":73,"l":-50,"y":19.9,"a":2014.1,"b":2018},{"g":73,"l":-50,"y":19,"a":2013.8,"b":2018},{"g":73,"l":-50,"y":18.3,"a":2014,"b":2018},{"g":73,"l":-50,"y":15.4,"a":2014.5,"b":2018},{"g":73,"l":-50,"y":14.5,"a":2015,"b":2018},{"g":73,"l":-50,"y":14,"a":2017,"b":2018},
{"g":74,"l":-50,"y":9.9,"a":1955,"b":1956},{"g":74,"l":-50,"y":9.1,"a":1955,"b":1957},{"g":74,"l":-50,"y":8.4,"a":1955,"b":1957.2},{"g":74,"l":-50,"y":7.5,"a":1955,"b":1957},{"g":74,"l":-50,"y":6.7,"a":1955,"b":1956},
{"g":75,"l":-50,"y":9.9,"a":2017,"b":2018},{"g":75,"l":-50,"y":9.1,"a":2016,"b":2018},{"g":75,"l":-50,"y":8.4,"a":2015.8,"b":2018},{"g":75,"l":-50,"y":7.5,"a":2016,"b":2018},{"g":75,"l":-50,"y":6.7,"a":2017,"b":2018},
{"g":76,"l":-50,"y":9.9,"a":1964.5,"b":1964.5},{"g":76,"l":-50,"y":9.4,"a":1963.6,"b":1965.3},{"g":76,"l":-50,"y":8,"a":1963,"b":1965.3},{"g":76,"l":-50,"y":6.7,"a":1963.9,"b":1964.6},{"g":76,"l":-50,"y":6.5,"a":1964.2,"b":1964.2},
{"g":77,"l":-50,"y":9.9,"a":2008.5,"b":2008.5},{"g":77,"l":-50,"y":9.4,"a":2007.7,"b":2009.4},{"g":77,"l":-50,"y":8,"a":2007.7,"b":2010},{"g":77,"l":-50,"y":6.7,"a":2008.4,"b":2009.1},{"g":77,"l":-50,"y":6.5,"a":2008.8,"b":2008.8},
{"g":78,"l":-50,"y":8.75,"a":1972.2,"b":1972.2},{"g":78,"l":-50,"y":8.2,"a":1971.6,"b":1972.7},{"g":78,"l":-50,"y":7.6,"a":1972.2,"b":1972.2},
{"g":79,"l":-50,"y":8.75,"a":2000.8,"b":2000.8},{"g":79,"l":-50,"y":8.2,"a":2000.3,"b":2001.4},{"g":79,"l":-50,"y":7.6,"a":2000.8,"b":2000.8},
{"g":80,"l":-50,"y":5.7,"a":1980.95,"b":1980.95},{"g":80,"l":-50,"y":5.3,"a":1980.7,"b":1981.2},{"g":80,"l":-50,"y":4.8,"a":1980.95,"b":1980.95},
{"g":81,"l":-50,"y":5.7,"a":1992.05,"b":1992.05},{"g":81,"l":-50,"y":5.3,"a":1991.8,"b":1992.3},{"g":81,"l":-50,"y":4.8,"a":1992.05,"b":1992.05},
{"g":82,"l":-50,"y":6.8,"a":1986.5,"b":1986.5},{"g":82,"l":-50,"y":6.6,"a":1986.2,"b":1986.8},{"g":82,"l":-50,"y":6.4,"a":1985.9,"b":1987.1},{"g":82,"l":-50,"y":5.5,"a":1985.9,"b":1987.1},{"g":82,"l":-50,"y":5.25,"a":1986.5,"b":1986.5},
{"g":83,"l":-50,"y":16.15,"a":1986.5,"b":1986.5},{"g":83,"l":-50,"y":15.8,"a":1985.2,"b":1987.8},{"g":83,"l":-50,"y":14.2,"a":1984.55,"b":1988.45},{"g":83,"l":-50,"y":12.2,"a":1984.9,"b":1988.1},{"g":83,"l":-50,"y":11.3,"a":1985.8,"b":1987.2},{"g":83,"l":-50,"y":11.2,"a":1986.5,"b":1986.5},
{"g":90,"l":-70,"y":35.6,"a":1973,"b":1973},{"g":90,"l":-70,"y":35,"a":1972.7,"b":1973.5},{"g":90,"l":-70,"y":34.6,"a":1968.3,"b":1973.8},{"g":90,"l":-70,"y":33.75,"a":1968.6,"b":1974.3},{"g":90,"l":-70,"y":33,"a":1967.7,"b":1974.9},{"g":90,"l":-70,"y":31.3,"a":1967.2,"b":1975.5},{"g":90,"l":-70,"y":29.3,"a":1967.2,"b":1975.7},{"g":90,"l":-70,"y":27.6,"a":1967.9,"b":1975.2},{"g":90,"l":-70,"y":26.7,"a":1969.7,"b":1975},{"g":90,"l":-70,"y":25.9,"a":1972.3,"b":1974.5},{"g":90,"l":-70,"y":25.3,"a":1973.1,"b":1973.1},
{"g":91,"l":-70,"y":35.6,"a":2000,"b":2000},{"g":91,"l":-70,"y":35,"a":1999.5,"b":2000.3},{"g":91,"l":-70,"y":34.6,"a":1999.2,"b":2004.7},{"g":91,"l":-70,"y":33.75,"a":1998.7,"b":2004.4},{"g":91,"l":-70,"y":33,"a":1998.1,"b":2005.3},{"g":91,"l":-70,"y":31.3,"a":1997.5,"b":2005.8},{"g":91,"l":-70,"y":29.3,"a":1997.3,"b":2005.8},{"g":91,"l":-70,"y":27.6,"a":1997.8,"b":2005.1},{"g":91,"l":-70,"y":26.7,"a":1998,"b":2003.3},{"g":91,"l":-70,"y":25.9,"a":1998.5,"b":2000.7},{"g":91,"l":-70,"y":25.3,"a":1999.9,"b":1999.9},
{"g":92,"l":-70,"y":25.2,"a":1975,"b":1975},{"g":92,"l":-70,"y":24,"a":1973.7,"b":1976.4},{"g":92,"l":-70,"y":23.5,"a":1973.8,"b":1977},{"g":92,"l":-70,"y":23.2,"a":1974.5,"b":1977.5},{"g":92,"l":-70,"y":22.8,"a":1973.6,"b":1977.9},{"g":92,"l":-70,"y":21.6,"a":1973.3,"b":1978.4},{"g":92,"l":-70,"y":20.5,"a":1973.4,"b":1978.4},{"g":92,"l":-70,"y":19.4,"a":1973.4,"b":1976.5},{"g":92,"l":-70,"y":18.3,"a":1973.4,"b":1974.8},{"g":92,"l":-70,"y":17.7,"a":1974.05,"b":1974.05},
{"g":93,"l":-70,"y":25.2,"a":1998,"b":1998},{"g":93,"l":-70,"y":24,"a":1996.6,"b":1999.3},{"g":93,"l":-70,"y":23.5,"a":1996,"b":1999.2},{"g":93,"l":-70,"y":23.2,"a":1995.5,"b":1998.5},{"g":93,"l":-70,"y":22.8,"a":1995.1,"b":1999.4},{"g":93,"l":-70,"y":21.6,"a":1994.6,"b":1999.7},{"g":93,"l":-70,"y":20.5,"a":1994.6,"b":1999.6},{"g":93,"l":-70,"y":19.4,"a":1996.5,"b":1999.6},{"g":93,"l":-70,"y":18.3,"a":1998.2,"b":1999.6},{"g":93,"l":-70,"y":17.7,"a":1998.95,"b":1998.95},
{"g":94,"l":-70,"y":17.9,"a":1973.1,"b":1973.1},{"g":94,"l":-70,"y":17.45,"a":1972.3,"b":1973.9},{"g":94,"l":-70,"y":16.7,"a":1971.15,"b":1974},{"g":94,"l":-70,"y":15.6,"a":1970.5,"b":1973.7},{"g":94,"l":-70,"y":14.55,"a":1970.9,"b":1973.5},{"g":94,"l":-70,"y":13.9,"a":1971.7,"b":1973.3},{"g":94,"l":-70,"y":13.6,"a":1973.1,"b":1973.1},
{"g":95,"l":-70,"y":17.9,"a":1999.9,"b":1999.9},{"g":95,"l":-70,"y":17.45,"a":1999.1,"b":2000.7},{"g":95,"l":-70,"y":16.7,"a":1999,"b":2001.85},{"g":95,"l":-70,"y":15.6,"a":1999.3,"b":2002.5},{"g":95,"l":-70,"y":14.55,"a":1999.5,"b":2002.1},{"g":95,"l":-70,"y":13.9,"a":1999.7,"b":2001.3},{"g":95,"l":-70,"y":13.6,"a":1999.9,"b":1999.9},
{"g":96,"l":-70,"y":22.1,"a":1955,"b":1956},{"g":96,"l":-70,"y":21.7,"a":1955,"b":1957.2},{"g":96,"l":-70,"y":20.5,"a":1955,"b":1958.2},{"g":96,"l":-70,"y":19.4,"a":1955,"b":1958.4},{"g":96,"l":-70,"y":17,"a":1955,"b":1958.4},{"g":96,"l":-70,"y":15.5,"a":1955,"b":1958},{"g":96,"l":-70,"y":14.7,"a":1955,"b":1957.2},{"g":96,"l":-70,"y":14.5,"a":1955,"b":1956},
{"g":97,"l":-70,"y":22.1,"a":2017,"b":2018},{"g":97,"l":-70,"y":21.7,"a":2015.8,"b":2018},{"g":97,"l":-70,"y":20.5,"a":2014.8,"b":2018},{"g":97,"l":-70,"y":19.4,"a":2014.6,"b":2018},{"g":97,"l":-70,"y":17,"a":2014.6,"b":2018},{"g":97,"l":-70,"y":15.5,"a":2015,"b":2018},{"g":97,"l":-70,"y":14.7,"a":2015.8,"b":2018},{"g":97,"l":-70,"y":14.5,"a":2017,"b":2018},
{"g":98,"l":-70,"y":9.4,"a":1955,"b":1956},{"g":98,"l":-70,"y":9,"a":1955,"b":1956.75},{"g":98,"l":-70,"y":8.4,"a":1955,"b":1957},{"g":98,"l":-70,"y":7.6,"a":1955,"b":1956.7},{"g":98,"l":-70,"y":7.1,"a":1955,"b":1956},
{"g":99,"l":-70,"y":9.4,"a":2017,"b":2018},{"g":99,"l":-70,"y":9,"a":2016.25,"b":2018},{"g":99,"l":-70,"y":8.4,"a":2016,"b":2018},{"g":99,"l":-70,"y":7.6,"a":2016.3,"b":2018},{"g":99,"l":-70,"y":7.1,"a":2017,"b":2018},
{"g":100,"l":-70,"y":9.2,"a":1964.4,"b":1964.4},{"g":100,"l":-70,"y":8.9,"a":1963.9,"b":1965},{"g":100,"l":-70,"y":8,"a":1963.5,"b":1965},{"g":100,"l":-70,"y":7.6,"a":1963.8,"b":1964.7},{"g":100,"l":-70,"y":7.2,"a":1964.1,"b":1964.1},
{"g":101,"l":-70,"y":9.2,"a":2008.6,"b":2008.6},{"g":101,"l":-70,"y":8.9,"a":2008,"b":2009.1},{"g":101,"l":-70,"y":8,"a":2008,"b":2009.5},{"g":101,"l":-70,"y":7.6,"a":2008.3,"b":2009.2},{"g":101,"l":-70,"y":7.2,"a":2008.9,"b":2008.9},
{"g":102,"l":-70,"y":15.45,"a":1986.5,"b":1986.5},{"g":102,"l":-70,"y":15.1,"a":1985.6,"b":1987.4},{"g":102,"l":-70,"y":14,"a":1985.3,"b":1987.7},{"g":102,"l":-70,"y":12.5,"a":1985.9,"b":1987.1},{"g":102,"l":-70,"y":12.3,"a":1986.5,"b":1986.5},
{"g":110,"l":-90,"y":33.7,"a":1971.5,"b":1971.5},{"g":110,"l":-90,"y":33.5,"a":1970.8,"b":1972.3},{"g":110,"l":-90,"y":33,"a":1970.2,"b":1972.9},{"g":110,"l":-90,"y":32.6,"a":1968.8,"b":1974},{"g":110,"l":-90,"y":31.3,"a":1968.2,"b":1974.3},{"g":110,"l":-90,"y":30,"a":1968.1,"b":1974.7},{"g":110,"l":-90,"y":29,"a":1968.5,"b":1974.4},{"g":110,"l":-90,"y":28,"a":1969.9,"b":1973.8},{"g":110,"l":-90,"y":27.5,"a":1970.4,"b":1973.5},{"g":110,"l":-90,"y":27.3,"a":1971,"b":1973.2},{"g":110,"l":-90,"y":26.85,"a":1973,"b":1973},
{"g":111,"l":-90,"y":33.7,"a":2001.5,"b":2001.5},{"g":111,"l":-90,"y":33.5,"a":2000.7,"b":2002.2},{"g":111,"l":-90,"y":33,"a":2000.1,"b":2002.8},{"g":111,"l":-90,"y":32.6,"a":1999,"b":2004.2},{"g":111,"l":-90,"y":31.3,"a":1998.7,"b":2004.8},{"g":111,"l":-90,"y":30,"a":1998.3,"b":2004.9},{"g":111,"l":-90,"y":29,"a":1998.6,"b":2004.5},{"g":111,"l":-90,"y":28,"a":1999.2,"b":2003.1},{"g":111,"l":-90,"y":27.5,"a":1999.5,"b":2002.6},{"g":111,"l":-90,"y":27.3,"a":1999.8,"b":2002},{"g":111,"l":-90,"y":26.85,"a":2000,"b":2000},
{"g":112,"l":-90,"y":22.4,"a":1975.6,"b":1975.6},{"g":112,"l":-90,"y":22.2,"a":1974.9,"b":1976.5},{"g":112,"l":-90,"y":21,"a":1974.7,"b":1977.4},{"g":112,"l":-90,"y":20.5,"a":1974.9,"b":1977.3},{"g":112,"l":-90,"y":20.2,"a":1976.2,"b":1976.2},
{"g":113,"l":-90,"y":22.4,"a":1997.4,"b":1997.4},{"g":113,"l":-90,"y":22.2,"a":1996.5,"b":1998.1},{"g":113,"l":-90,"y":21,"a":1995.6,"b":1998.3},{"g":113,"l":-90,"y":20.5,"a":1995.7,"b":1998.1},{"g":113,"l":-90,"y":20.2,"a":1996.8,"b":1996.8},
{"g":114,"l":-90,"y":20.4,"a":1955,"b":1956},{"g":114,"l":-90,"y":19.9,"a":1955,"b":1957},{"g":114,"l":-90,"y":18.1,"a":1955,"b":1957.5},{"g":114,"l":-90,"y":17,"a":1955,"b":1957.7},{"g":114,"l":-90,"y":15.2,"a":1955,"b":1957.3},{"g":114,"l":-90,"y":15,"a":1955,"b":1956},
{"g":115,"l":-90,"y":20.4,"a":2017,"b":2018},{"g":115,"l":-90,"y":19.9,"a":2016,"b":2018},{"g":115,"l":-90,"y":18.1,"a":2015.5,"b":2018},{"g":115,"l":-90,"y":17,"a":2015.3,"b":2018},{"g":115,"l":-90,"y":15.2,"a":2015.7,"b":2018},{"g":115,"l":-90,"y":15,"a":2017,"b":2018},
{"g":116,"l":-90,"y":8.8,"a":1955,"b":1956},{"g":116,"l":-90,"y":8.35,"a":1955,"b":1956.5},{"g":116,"l":-90,"y":7.6,"a":1955,"b":1956.3},{"g":116,"l":-90,"y":7.5,"a":1955,"b":1956},
{"g":117,"l":-90,"y":8.8,"a":2017,"b":2018},{"g":117,"l":-90,"y":8.35,"a":2016.5,"b":2018},{"g":117,"l":-90,"y":7.6,"a":2016.7,"b":2018},{"g":117,"l":-90,"y":7.5,"a":2017,"b":2018},
{"g":120,"l":-110,"y":32.3,"a":1971,"b":1971},{"g":120,"l":-110,"y":31.4,"a":1970.4,"b":1971.7},{"g":120,"l":-110,"y":31,"a":1970.2,"b":1971.6},{"g":120,"l":-110,"y":30.6,"a":1970.7,"b":1971.6},
{"g":121,"l":-110,"y":32.3,"a":2002,"b":2002},{"g":121,"l":-110,"y":31.4,"a":2001.3,"b":2002.6},{"g":121,"l":-110,"y":31,"a":2001.4,"b":2002.8},{"g":121,"l":-110,"y":30.6,"a":2001.4,"b":2002.3},
{"g":122,"l":-110,"y":30.6,"a":1971.9,"b":1971.9},{"g":122,"l":-110,"y":30,"a":1971.5,"b":1972.3},{"g":122,"l":-110,"y":29.65,"a":1972,"b":1972},
{"g":123,"l":-110,"y":30.6,"a":2001.1,"b":2001.1},{"g":123,"l":-110,"y":30,"a":2000.7,"b":2001.5},{"g":123,"l":-110,"y":29.65,"a":2001,"b":2001},
{"g":124,"l":-110,"y":17,"a":1955,"b":1956},{"g":124,"l":-110,"y":16.6,"a":1955,"b":1956.4},{"g":124,"l":-110,"y":16,"a":1955,"b":1956.2},{"g":124,"l":-110,"y":15.9,"a":1955,"b":1956},
{"g":125,"l":-110,"y":17,"a":2017,"b":2018},{"g":125,"l":-110,"y":16.6,"a":2016.6,"b":2018},{"g":125,"l":-110,"y":16,"a":2016.8,"b":2018},{"g":125,"l":-110,"y":15.9,"a":2017,"b":2018},
{"g":130,"l":30,"y":39.2,"a":1955,"b":1956.9},{"g":130,"l":30,"y":38.5,"a":1955,"b":1956.85},{"g":130,"l":30,"y":37.6,"a":1955,"b":1957.5},{"g":130,"l":30,"y":36.8,"a":1955,"b":1957.7},{"g":130,"l":30,"y":35.6,"a":1955,"b":1959.8},{"g":130,"l":30,"y":34.4,"a":1955,"b":1961.3},{"g":130,"l":30,"y":33.2,"a":1955,"b":1962},{"g":130,"l":30,"y":31.2,"a":1955,"b":1962.5},{"g":130,"l":30,"y":30.2,"a":1955,"b":1962.66},{"g":130,"l":30,"y":29.5,"a":1955,"b":1962.9},{"g":130,"l":30,"y":28.25,"a":1955,"b":1961.9},{"g":130,"l":30,"y":27.2,"a":1955,"b":1962},{"g":130,"l":30,"y":26.5,"a":1955,"b":1961.3},{"g":130,"l":30,"y":25.6,"a":1955,"b":1960.3},{"g":130,"l":30,"y":25.3,"a":1955,"b":1960},
{"g":131,"l":30,"y":39.2,"a":2016.1,"b":2018},{"g":131,"l":30,"y":38.5,"a":2016.15,"b":2018},{"g":131,"l":30,"y":37.6,"a":2015.5,"b":2018},{"g":131,"l":30,"y":36.8,"a":2015.3,"b":2018},{"g":131,"l":30,"y":35.6,"a":2013.2,"b":2018},{"g":131,"l":30,"y":34.4,"a":2011.7,"b":2018},{"g":131,"l":30,"y":33.2,"a":2011,"b":2018},{"g":131,"l":30,"y":31.2,"a":2010.5,"b":2018},{"g":131,"l":30,"y":30.2,"a":2010.34,"b":2018},{"g":131,"l":30,"y":29.5,"a":2010.1,"b":2018},{"g":131,"l":30,"y":28.25,"a":2011.1,"b":2018},{"g":131,"l":30,"y":27.2,"a":2011,"b":2018},{"g":131,"l":30,"y":26.5,"a":2011.7,"b":2018},{"g":131,"l":30,"y":25.6,"a":2012.7,"b":2018},{"g":131,"l":30,"y":25.3,"a":2013,"b":2018},
{"g":132,"l":30,"y":24.25,"a":1963.1,"b":1963.1},{"g":132,"l":30,"y":24,"a":1962.7,"b":1966.5},{"g":132,"l":30,"y":23.4,"a":1963,"b":1968},{"g":132,"l":30,"y":22.5,"a":1962.1,"b":1969},{"g":132,"l":30,"y":20.8,"a":1961.9,"b":1969.7},{"g":132,"l":30,"y":20,"a":1961.7,"b":1969.8},{"g":132,"l":30,"y":17.9,"a":1961.4,"b":1968.3},{"g":132,"l":30,"y":16.4,"a":1961,"b":1967.5},{"g":132,"l":30,"y":15.1,"a":1961,"b":1967.2},{"g":132,"l":30,"y":13.7,"a":1962.2,"b":1967.25},{"g":132,"l":30,"y":12.9,"a":1963.8,"b":1967.5},{"g":132,"l":30,"y":12.4,"a":1965.2,"b":1967},{"g":132,"l":30,"y":12.25,"a":1966.5,"b":1966.5},
{"g":133,"l":30,"y":24.25,"a":2009.9,"b":2009.9},{"g":133,"l":30,"y":24,"a":2006.5,"b":2010.3},{"g":133,"l":30,"y":23.4,"a":2005,"b":2010},{"g":133,"l":30,"y":22.5,"a":2004,"b":2010.9},{"g":133,"l":30,"y":20.8,"a":2003.3,"b":2011.1},{"g":133,"l":30,"y":20,"a":2003.2,"b":2011.3},{"g":133,"l":30,"y":17.9,"a":2004.7,"b":2011.6},{"g":133,"l":30,"y":16.4,"a":2005.5,"b":2012},{"g":133,"l":30,"y":15.1,"a":2005.8,"b":2012},{"g":133,"l":30,"y":13.7,"a":2005.75,"b":2010.8},{"g":133,"l":30,"y":12.9,"a":2005.5,"b":2009.2},{"g":133,"l":30,"y":12.4,"a":2006,"b":2007.8},{"g":133,"l":30,"y":12.25,"a":2006.5,"b":2006.5},
{"g":134,"l":30,"y":39.7,"a":1984.8,"b":1988.2},{"g":134,"l":30,"y":39.2,"a":1983.4,"b":1989.6},{"g":134,"l":30,"y":38.3,"a":1983.3,"b":1989.7},{"g":134,"l":30,"y":37.7,"a":1981.6,"b":1991.4},{"g":134,"l":30,"y":36.9,"a":1982.1,"b":1990.9},{"g":134,"l":30,"y":36.4,"a":1981,"b":1992},{"g":134,"l":30,"y":35.2,"a":1980.3,"b":1992.7},{"g":134,"l":30,"y":33.5,"a":1980.4,"b":1992.6},{"g":134,"l":30,"y":30.1,"a":1980.2,"b":1992.8},{"g":134,"l":30,"y":28.4,"a":1980.3,"b":1992.7},{"g":134,"l":30,"y":27.3,"a":1981.2,"b":1991.8},{"g":134,"l":30,"y":25.9,"a":1981.4,"b":1991.6},{"g":134,"l":30,"y":24.9,"a":1981.6,"b":1991.4},{"g":134,"l":30,"y":24,"a":1982.1,"b":1990.9},{"g":134,"l":30,"y":23.1,"a":1981.9,"b":1991.1},{"g":134,"l":30,"y":21.2,"a":1982.2,"b":1990.8},{"g":134,"l":30,"y":20.5,"a":1982.2,"b":1990.8},{"g":134,"l":30,"y":19.3,"a":1982.4,"b":1990.6},{"g":134,"l":30,"y":18.5,"a":1983,"b":1990},{"g":134,"l":30,"y":18.2,"a":1984,"b":1989},
{"g":135,"l":30,"y":38.7,"a":1980,"b":1980},{"g":135,"l":30,"y":38.4,"a":1979.65,"b":1980.4},{"g":135,"l":30,"y":38.1,"a":1980,"b":1980},
{"g":136,"l":30,"y":38.7,"a":1993,"b":1993},{"g":136,"l":30,"y":38.4,"a":1992.6,"b":1993.35},{"g":136,"l":30,"y":38.1,"a":1993,"b":1993},
{"g":137,"l":30,"y":17.5,"a":1980,"b":1980},{"g":137,"l":30,"y":17.3,"a":1979.2,"b":1981.4},{"g":137,"l":30,"y":16.2,"a":1977,"b":1982.1},{"g":137,"l":30,"y":15,"a":1976.7,"b":1982.3},{"g":137,"l":30,"y":13.8,"a":1977,"b":1982.3},{"g":137,"l":30,"y":12.6,"a":1977.4,"b":1982.3},{"g":137,"l":30,"y":12,"a":1977.9,"b":1982.26},{"g":137,"l":30,"y":10.7,"a":1978.6,"b":1980.9},{"g":137,"l":30,"y":10,"a":1979.1,"b":1979.1},
{"g":138,"l":30,"y":17.5,"a":1993,"b":1993},{"g":138,"l":30,"y":17.3,"a":1991.6,"b":1993.8},{"g":138,"l":30,"y":16.2,"a":1990.9,"b":1996},{"g":138,"l":30,"y":15,"a":1990.7,"b":1996.3},{"g":138,"l":30,"y":13.8,"a":1990.7,"b":1996},{"g":138,"l":30,"y":12.6,"a":1990.7,"b":1995.6},{"g":138,"l":30,"y":12,"a":1990.74,"b":1995.1},{"g":138,"l":30,"y":10.7,"a":1992.1,"b":1994.4},{"g":138,"l":30,"y":10,"a":1993.9,"b":1993.9},
{"g":139,"l":30,"y":10.4,"a":1960.2,"b":1960.2},{"g":139,"l":30,"y":10.2,"a":1959.4,"b":1961},{"g":139,"l":30,"y":8,"a":1958.5,"b":1961.6},{"g":139,"l":30,"y":6.6,"a":1959.4,"b":1961},{"g":139,"l":30,"y":6,"a":1960,"b":1960},
{"g":140,"l":30,"y":10.4,"a":2012.8,"b":2012.8},{"g":140,"l":30,"y":10.2,"a":2012,"b":2013.6},{"g":140,"l":30,"y":8,"a":2011.4,"b":2014.5},{"g":140,"l":30,"y":6.6,"a":2012,"b":2013.6},{"g":140,"l":30,"y":6,"a":2013,"b":2013},
{"g":141,"l":30,"y":11.3,"a":1969,"b":1969},{"g":141,"l":30,"y":11,"a":1968.3,"b":1969.9},{"g":141,"l":30,"y":10,"a":1967.9,"b":1970.3},{"g":141,"l":30,"y":9,"a":1967.1,"b":1970.3},{"g":141,"l":30,"y":8.4,"a":1966.6,"b":1969.9},{"g":141,"l":30,"y":7.1,"a":1966.5,"b":1969.2},{"g":141,"l":30,"y":6.2,"a":1966.8,"b":1968},{"g":141,"l":30,"y":6,"a":1967.2,"b":1967.2},
{"g":142,"l":30,"y":11.3,"a":2004,"b":2004},{"g":142,"l":30,"y":11,"a":2003.1,"b":2004.7},{"g":142,"l":30,"y":10,"a":2002.7,"b":2005.1},{"g":142,"l":30,"y":9,"a":2002.7,"b":2005.9},{"g":142,"l":30,"y":8.4,"a":2003.1,"b":2006.4},{"g":142,"l":30,"y":7.1,"a":2003.8,"b":2006.5},{"g":142,"l":30,"y":6.2,"a":2005,"b":2006.2},{"g":142,"l":30,"y":6,"a":2005.8,"b":2005.8},
{"g":143,"l":30,"y":8.95,"a":1976.9,"b":1976.9},{"g":143,"l":30,"y":8.5,"a":1975.6,"b":1977.1},{"g":143,"l":30,"y":7.9,"a":1974.9,"b":1977},{"g":143,"l":30,"y":7.2,"a":1975.2,"b":1976.9},{"g":143,"l":30,"y":6.95,"a":1976,"b":1976},
{"g":144,"l":30,"y":8.95,"a":1996.1,"b":1996.1},{"g":144,"l":30,"y":8.5,"a":1995.9,"b":1997.4},{"g":144,"l":30,"y":7.9,"a":1996,"b":1998.1},{"g":144,"l":30,"y":7.2,"a":1996.1,"b":1997.8},{"g":144,"l":30,"y":6.95,"a":1997,"b":1997},
{"g":145,"l":30,"y":6.1,"a":1978.3,"b":1978.3},{"g":145,"l":30,"y":5.8,"a":1977.7,"b":1979},{"g":145,"l":30,"y":5,"a":1977.7,"b":1979.1},{"g":145,"l":30,"y":4.4,"a":1977.9,"b":1979},{"g":145,"l":30,"y":4.25,"a":1978.5,"b":1978.5},
{"g":146,"l":30,"y":6.1,"a":1994.7,"b":1994.7},{"g":146,"l":30,"y":5.8,"a":1994,"b":1995.3},{"g":146,"l":30,"y":5,"a":1993.9,"b":1995.3},{"g":146,"l":30,"y":4.4,"a":1994,"b":1995.1},{"g":146,"l":30,"y":4.25,"a":1994.5,"b":1994.5},
{"g":147,"l":30,"y":7.8,"a":1983,"b":1983},{"g":147,"l":30,"y":7.4,"a":1982.4,"b":1984.1},{"g":147,"l":30,"y":6.7,"a":1982.5,"b":1984.4},{"g":147,"l":30,"y":6,"a":1982.6,"b":1984.6},{"g":147,"l":30,"y":5.1,"a":1982.8,"b":1984.6},{"g":147,"l":30,"y":4.4,"a":1982.9,"b":1983.8},{"g":147,"l":30,"y":4,"a":1983,"b":1983.1},{"g":147,"l":30,"y":3.7,"a":1983,"b":1983},
{"g":148,"l":30,"y":7.8,"a":1990,"b":1990},{"g":148,"l":30,"y":7.4,"a":1988.9,"b":1990.6},{"g":148,"l":30,"y":6.7,"a":1988.6,"b":1990.5},{"g":148,"l":30,"y":6,"a":1988.4,"b":1990.4},{"g":148,"l":30,"y":5.1,"a":1988.4,"b":1990.2},{"g":148,"l":30,"y":4.4,"a":1989.2,"b":1990.1},{"g":148,"l":30,"y":4,"a":1989.9,"b":1990},{"g":148,"l":30,"y":3.7,"a":1990,"b":1990},
{"g":160,"l":50,"y":35.7,"a":1957.3,"b":1958.2},{"g":160,"l":50,"y":35.1,"a":1955,"b":1958.7},{"g":160,"l":50,"y":34.5,"a":1955,"b":1958.9},{"g":160,"l":50,"y":34,"a":1955,"b":1959.9},{"g":160,"l":50,"y":32.7,"a":1955,"b":1961.4},{"g":160,"l":50,"y":31.3,"a":1955,"b":1961.7},{"g":160,"l":50,"y":30.5,"a":1955,"b":1962},{"g":160,"l":50,"y":29.65,"a":1955,"b":1961.75},{"g":160,"l":50,"y":27.5,"a":1955,"b":1961.3},{"g":160,"l":50,"y":26.5,"a":1955,"b":1960.4},{"g":160,"l":50,"y":26.1,"a":1955,"b":1959.8},
{"g":161,"l":50,"y":35.7,"a":2014.8,"b":2015.7},{"g":161,"l":50,"y":35.1,"a":2014.3,"b":2018},{"g":161,"l":50,"y":34.5,"a":2014.1,"b":2018},{"g":161,"l":50,"y":34,"a":2013.1,"b":2018},{"g":161,"l":50,"y":32.7,"a":2011.6,"b":2018},{"g":161,"l":50,"y":31.3,"a":2011.3,"b":2018},{"g":161,"l":50,"y":30.5,"a":2011,"b":2018},{"g":161,"l":50,"y":29.65,"a":2011.25,"b":2018},{"g":161,"l":50,"y":27.5,"a":2011.7,"b":2018},{"g":161,"l":50,"y":26.5,"a":2012.6,"b":2018},{"g":161,"l":50,"y":26.1,"a":2013.2,"b":2018},
{"g":162,"l":50,"y":37.2,"a":1955,"b":1956},{"g":162,"l":50,"y":36.85,"a":1955,"b":1956.6},{"g":162,"l":50,"y":36.5,"a":1955,"b":1956},
{"g":163,"l":50,"y":37.2,"a":2017,"b":2018},{"g":163,"l":50,"y":36.85,"a":2016.4,"b":2018},{"g":163,"l":50,"y":36.5,"a":2017,"b":2018},
{"g":164,"l":50,"y":23.45,"a":1965.9,"b":1965.9},{"g":164,"l":50,"y":23.3,"a":1965,"b":1966.5},{"g":164,"l":50,"y":23,"a":1964,"b":1967},{"g":164,"l":50,"y":21.5,"a":1962.9,"b":1968.7},{"g":164,"l":50,"y":20,"a":1962.65,"b":1968.9},{"g":164,"l":50,"y":19.4,"a":1962.5,"b":1968.9},{"g":164,"l":50,"y":17,"a":1961.7,"b":1967.1},{"g":164,"l":50,"y":16.3,"a":1961.4,"b":1966.9},{"g":164,"l":50,"y":15.3,"a":1961.5,"b":1966.6},{"g":164,"l":50,"y":14,"a":1962.7,"b":1966.3},{"g":164,"l":50,"y":13.4,"a":1964.3,"b":1965.7},
{"g":165,"l":50,"y":23.45,"a":2007.1,"b":2007.1},{"g":165,"l":50,"y":23.3,"a":2006.5,"b":2008},{"g":165,"l":50,"y":23,"a":2006,"b":2009},{"g":165,"l":50,"y":21.5,"a":2004.3,"b":2010.1},{"g":165,"l":50,"y":20,"a":2004.1,"b":2010.35},{"g":165,"l":50,"y":19.4,"a":2004.1,"b":2010.5},{"g":165,"l":50,"y":17,"a":2005.9,"b":2011.3},{"g":165,"l":50,"y":16.3,"a":2006.1,"b":2011.6},{"g":165,"l":50,"y":15.3,"a":2006.4,"b":2011.5},{"g":165,"l":50,"y":14,"a":2006.7,"b":2010.3},{"g":165,"l":50,"y":13.4,"a":2007.3,"b":2008.7},
{"g":166,"l":50,"y":37.35,"a":1986.5,"b":1986.5},{"g":166,"l":50,"y":37.2,"a":1985.6,"b":1987.4},{"g":166,"l":50,"y":36.75,"a":1985,"b":1988},{"g":166,"l":50,"y":35.9,"a":1983.8,"b":1989.2},{"g":166,"l":50,"y":35.3,"a":1983.4,"b":1989.6},{"g":166,"l":50,"y":34.5,"a":1981.8,"b":1991.2},{"g":166,"l":50,"y":33.6,"a":1982,"b":1991},{"g":166,"l":50,"y":33,"a":1981.05,"b":1991.95},{"g":166,"l":50,"y":32.1,"a":1980.8,"b":1992.2},{"g":166,"l":50,"y":31.2,"a":1980.9,"b":1992.1},{"g":166,"l":50,"y":30.1,"a":1980.8,"b":1992.2},{"g":166,"l":50,"y":28.9,"a":1981.3,"b":1991.7},{"g":166,"l":50,"y":27.7,"a":1981.4,"b":1991.6},{"g":166,"l":50,"y":26.3,"a":1982.3,"b":1990.7},{"g":166,"l":50,"y":24.8,"a":1983,"b":1990},{"g":166,"l":50,"y":23.8,"a":1982.7,"b":1990.3},{"g":166,"l":50,"y":22.4,"a":1983,"b":1990},{"g":166,"l":50,"y":21,"a":1982.9,"b":1990.1},{"g":166,"l":50,"y":20,"a":1983.3,"b":1989.7},{"g":166,"l":50,"y":19.4,"a":1984,"b":1989},{"g":166,"l":50,"y":19,"a":1984.8,"b":1988.2},{"g":166,"l":50,"y":18.75,"a":1985.5,"b":1987.5},
{"g":167,"l":50,"y":16.6,"a":1979.5,"b":1979.5},{"g":167,"l":50,"y":16.4,"a":1978.8,"b":1980.3},{"g":167,"l":50,"y":16,"a":1978.2,"b":1981.2},{"g":167,"l":50,"y":14.8,"a":1977.4,"b":1981.6},{"g":167,"l":50,"y":13.2,"a":1977.9,"b":1981.7},{"g":167,"l":50,"y":11.85,"a":1978.8,"b":1981.15},{"g":167,"l":50,"y":11.3,"a":1980,"b":1980},
{"g":168,"l":50,"y":16.6,"a":1993.5,"b":1993.5},{"g":168,"l":50,"y":16.4,"a":1992.7,"b":1994.2},{"g":168,"l":50,"y":16,"a":1991.8,"b":1994.8},{"g":168,"l":50,"y":14.8,"a":1991.4,"b":1995.6},{"g":168,"l":50,"y":13.2,"a":1991.3,"b":1995.1},{"g":168,"l":50,"y":11.85,"a":1991.85,"b":1994.2},{"g":168,"l":50,"y":11.3,"a":1993,"b":1993},
{"g":169,"l":50,"y":9.9,"a":1960,"b":1960},{"g":169,"l":50,"y":9.6,"a":1959.4,"b":1960.8},{"g":169,"l":50,"y":8.2,"a":1958.7,"b":1961.3},{"g":169,"l":50,"y":7,"a":1959.4,"b":1960.8},{"g":169,"l":50,"y":6.6,"a":1960,"b":1960},
{"g":170,"l":50,"y":9.9,"a":2013,"b":2013},{"g":170,"l":50,"y":9.6,"a":2012.2,"b":2013.6},{"g":170,"l":50,"y":8.2,"a":2011.7,"b":2014.3},{"g":170,"l":50,"y":7,"a":2012.2,"b":2013.6},{"g":170,"l":50,"y":6.6,"a":2013,"b":2013},
{"g":171,"l":50,"y":10,"a":1968.9,"b":1968.9},{"g":171,"l":50,"y":9.7,"a":1968.3,"b":1969.3},{"g":171,"l":50,"y":9.1,"a":1967.3,"b":1969.5},{"g":171,"l":50,"y":8.4,"a":1967,"b":1969.4},{"g":171,"l":50,"y":7.3,"a":1966.9,"b":1968.7},{"g":171,"l":50,"y":6.9,"a":1967.5,"b":1967.5},
{"g":172,"l":50,"y":10,"a":2004.1,"b":2004.1},{"g":172,"l":50,"y":9.7,"a":2003.7,"b":2004.7},{"g":172,"l":50,"y":9.1,"a":2003.5,"b":2005.7},{"g":172,"l":50,"y":8.4,"a":2003.6,"b":2006},{"g":172,"l":50,"y":7.3,"a":2004.3,"b":2006.1},{"g":172,"l":50,"y":6.9,"a":2005.5,"b":2005.5},
{"g":173,"l":50,"y":6.6,"a":1983.4,"b":1983.4},{"g":173,"l":50,"y":6.4,"a":1983.1,"b":1983.9},{"g":173,"l":50,"y":5.9,"a":1983.1,"b":1984.2},{"g":173,"l":50,"y":5.5,"a":1983.5,"b":1984.2},{"g":173,"l":50,"y":5.2,"a":1983.9,"b":1983.9},
{"g":174,"l":50,"y":6.6,"a":1989.6,"b":1989.6},{"g":174,"l":50,"y":6.4,"a":1989.1,"b":1989.9},{"g":174,"l":50,"y":5.9,"a":1988.8,"b":1989.9},{"g":174,"l":50,"y":5.5,"a":1988.8,"b":1989.5},{"g":174,"l":50,"y":5.2,"a":1989.1,"b":1989.1},
{"g":180,"l":70,"y":34.3,"a":1955,"b":1956},{"g":180,"l":70,"y":34,"a":1955,"b":1958.1},{"g":180,"l":70,"y":33.65,"a":1955,"b":1959.15},{"g":180,"l":70,"y":32.7,"a":1955,"b":1959.8},{"g":180,"l":70,"y":31.8,"a":1955,"b":1959.8},{"g":180,"l":70,"y":31.2,"a":1955,"b":1960.6},{"g":180,"l":70,"y":30.5,"a":1955,"b":1960.7},{"g":180,"l":70,"y":29.8,"a":1955,"b":1960.45},{"g":180,"l":70,"y":29.1,"a":1955,"b":1959.9},{"g":180,"l":70,"y":28.1,"a":1955,"b":1960},{"g":180,"l":70,"y":27.2,"a":1955,"b":1959.3},{"g":180,"l":70,"y":26.8,"a":1955,"b":1958},{"g":180,"l":70,"y":26.6,"a":1956,"b":1957.3},
{"g":181,"l":70,"y":34.3,"a":2017,"b":2018},{"g":181,"l":70,"y":34,"a":2014.9,"b":2018},{"g":181,"l":70,"y":33.65,"a":2013.85,"b":2018},{"g":181,"l":70,"y":32.7,"a":2013.2,"b":2018},{"g":181,"l":70,"y":31.8,"a":2013.2,"b":2018},{"g":181,"l":70,"y":31.2,"a":2012.4,"b":2018},{"g":181,"l":70,"y":30.5,"a":2012.3,"b":2018},{"g":181,"l":70,"y":29.8,"a":2012.55,"b":2018},{"g":181,"l":70,"y":29.1,"a":2013.1,"b":2018},{"g":181,"l":70,"y":28.1,"a":2013,"b":2018},{"g":181,"l":70,"y":27.2,"a":2013.7,"b":2018},{"g":181,"l":70,"y":26.8,"a":2015,"b":2018},{"g":181,"l":70,"y":26.6,"a":2015.7,"b":2017},
{"g":182,"l":70,"y":22.4,"a":1965.3,"b":1965.3},{"g":182,"l":70,"y":22.3,"a":1964.7,"b":1966.2},{"g":182,"l":70,"y":22.1,"a":1964.1,"b":1967},{"g":182,"l":70,"y":20.85,"a":1963.7,"b":1968},{"g":182,"l":70,"y":20,"a":1963.2,"b":1967.6},{"g":182,"l":70,"y":19.1,"a":1962.9,"b":1967.6},{"g":182,"l":70,"y":17.5,"a":1962.2,"b":1966.8},{"g":182,"l":70,"y":16,"a":1962,"b":1966.4},{"g":182,"l":70,"y":14.75,"a":1963,"b":1966},{"g":182,"l":70,"y":14.3,"a":1964,"b":1965.3},{"g":182,"l":70,"y":14.1,"a":1964.6,"b":1964.6},
{"g":183,"l":70,"y":22.4,"a":2007.7,"b":2007.7},{"g":183,"l":70,"y":22.3,"a":2006.8,"b":2008.3},{"g":183,"l":70,"y":22.1,"a":2006,"b":2008.9},{"g":183,"l":70,"y":20.85,"a":2005,"b":2009.3},{"g":183,"l":70,"y":20,"a":2005.4,"b":2009.8},{"g":183,"l":70,"y":19.1,"a":2005.4,"b":2010.1},{"g":183,"l":70,"y":17.5,"a":2006.2,"b":2010.8},{"g":183,"l":70,"y":16,"a":2006.6,"b":2011},{"g":183,"l":70,"y":14.75,"a":2007,"b":2010},{"g":183,"l":70,"y":14.3,"a":2007.7,"b":2009},{"g":183,"l":70,"y":14.1,"a":2008.4,"b":2008.4},
{"g":184,"l":70,"y":35.85,"a":1986.5,"b":1986.5},{"g":184,"l":70,"y":35.6,"a":1985.3,"b":1987.7},{"g":184,"l":70,"y":33.8,"a":1983,"b":1990},{"g":184,"l":70,"y":33,"a":1982.9,"b":1990.1},{"g":184,"l":70,"y":31.2,"a":1982,"b":1991},{"g":184,"l":70,"y":30.5,"a":1982.4,"b":1990.6},{"g":184,"l":70,"y":28.8,"a":1982.4,"b":1990.6},{"g":184,"l":70,"y":27.6,"a":1982.8,"b":1990.2},{"g":184,"l":70,"y":26.3,"a":1984.2,"b":1988.8},{"g":184,"l":70,"y":25.6,"a":1984.2,"b":1988.8},{"g":184,"l":70,"y":24.8,"a":1984.8,"b":1988.2},{"g":184,"l":70,"y":24,"a":1983.8,"b":1989.2},{"g":184,"l":70,"y":23,"a":1983.7,"b":1989.3},{"g":184,"l":70,"y":22.2,"a":1983.85,"b":1989.15},{"g":184,"l":70,"y":20.8,"a":1983.65,"b":1989.35},{"g":184,"l":70,"y":20,"a":1984.2,"b":1988.8},{"g":184,"l":70,"y":19.5,"a":1984.9,"b":1988.1},{"g":184,"l":70,"y":19.3,"a":1985.5,"b":1987.5},
{"g":185,"l":70,"y":15.9,"a":1979.4,"b":1979.4},{"g":185,"l":70,"y":15.6,"a":1978.65,"b":1980.3},{"g":185,"l":70,"y":14.6,"a":1978.2,"b":1980.6},{"g":185,"l":70,"y":13.5,"a":1978.65,"b":1980.9},{"g":185,"l":70,"y":12.8,"a":1979.3,"b":1980.6},{"g":185,"l":70,"y":12.5,"a":1980,"b":1980},
{"g":186,"l":70,"y":15.9,"a":1993.6,"b":1993.6},{"g":186,"l":70,"y":15.6,"a":1992.7,"b":1994.35},{"g":186,"l":70,"y":14.6,"a":1992.4,"b":1994.8},{"g":186,"l":70,"y":13.5,"a":1992.1,"b":1994.35},{"g":186,"l":70,"y":12.8,"a":1992.4,"b":1993.7},{"g":186,"l":70,"y":12.5,"a":1993,"b":1993},
{"g":187,"l":70,"y":9.3,"a":1960,"b":1960},{"g":187,"l":70,"y":8.9,"a":1959.6,"b":1960.6},{"g":187,"l":70,"y":8,"a":1959.2,"b":1961},{"g":187,"l":70,"y":7.3,"a":1959.6,"b":1960.6},{"g":187,"l":70,"y":7,"a":1960,"b":1960},
{"g":188,"l":70,"y":9.3,"a":2013,"b":2013},{"g":188,"l":70,"y":8.9,"a":2012.4,"b":2013.4},{"g":188,"l":70,"y":8,"a":2012,"b":2013.8},{"g":188,"l":70,"y":7.3,"a":2012.4,"b":2013.4},{"g":188,"l":70,"y":7,"a":2013,"b":2013},
{"g":189,"l":70,"y":8.7,"a":1968.1,"b":1968.1},{"g":189,"l":70,"y":8.2,"a":1967.9,"b":1968.4},{"g":189,"l":70,"y":7.8,"a":1968.1,"b":1968.1},
{"g":190,"l":70,"y":8.7,"a":2005,"b":2005},{"g":190,"l":70,"y":8.2,"a":2004.6,"b":2005.2},{"g":190,"l":70,"y":7.8,"a":2005,"b":2005},
{"g":200,"l":90,"y":33.3,"a":1955,"b":1956},{"g":200,"l":90,"y":32.4,"a":1955,"b":1959},{"g":200,"l":90,"y":31.2,"a":1955,"b":1959.45},{"g":200,"l":90,"y":30.1,"a":1955,"b":1959.3},{"g":200,"l":90,"y":29.2,"a":1955,"b":1959.3},{"g":200,"l":90,"y":28.25,"a":1955,"b":1959.2},{"g":200,"l":90,"y":27.9,"a":1955,"b":1957.8},{"g":200,"l":90,"y":27.1,"a":1956.5,"b":1957},
{"g":201,"l":90,"y":33.3,"a":2017,"b":2018},{"g":201,"l":90,"y":32.4,"a":2014,"b":2018},{"g":201,"l":90,"y":31.2,"a":2013.55,"b":2018},{"g":201,"l":90,"y":30.1,"a":2013.7,"b":2018},{"g":201,"l":90,"y":29.2,"a":2013.7,"b":2018},{"g":201,"l":90,"y":28.25,"a":2013.8,"b":2018},{"g":201,"l":90,"y":27.9,"a":2015.2,"b":2018},{"g":201,"l":90,"y":27.1,"a":2016,"b":2016.5},
{"g":202,"l":90,"y":21.15,"a":1965.6,"b":1965.6},{"g":202,"l":90,"y":21,"a":1964.9,"b":1966.4},{"g":202,"l":90,"y":20.75,"a":1964.8,"b":1966.9},{"g":202,"l":90,"y":20.1,"a":1964.1,"b":1966.4},{"g":202,"l":90,"y":19.3,"a":1964.3,"b":1966.4},{"g":202,"l":90,"y":18.2,"a":1963.8,"b":1966.1},{"g":202,"l":90,"y":16.7,"a":1962.9,"b":1965.7},{"g":202,"l":90,"y":15.9,"a":1963,"b":1965.4},{"g":202,"l":90,"y":15.4,"a":1963.5,"b":1965.1},{"g":202,"l":90,"y":15.1,"a":1963.9,"b":1963.9},
{"g":203,"l":90,"y":21.15,"a":2007.4,"b":2007.4},{"g":203,"l":90,"y":21,"a":2006.6,"b":2008.1},{"g":203,"l":90,"y":20.75,"a":2006.1,"b":2008.2},{"g":203,"l":90,"y":20.1,"a":2006.6,"b":2008.9},{"g":203,"l":90,"y":19.3,"a":2006.6,"b":2008.7},{"g":203,"l":90,"y":18.2,"a":2006.9,"b":2009.2},{"g":203,"l":90,"y":16.7,"a":2007.3,"b":2010.1},{"g":203,"l":90,"y":15.9,"a":2007.6,"b":2010},{"g":203,"l":90,"y":15.4,"a":2007.9,"b":2009.5},{"g":203,"l":90,"y":15.1,"a":2009.1,"b":2009.1},
{"g":204,"l":90,"y":33.8,"a":1984.9,"b":1988.1},{"g":204,"l":90,"y":33.2,"a":1984.07,"b":1988.93},{"g":204,"l":90,"y":31.4,"a":1983.4,"b":1989.6},{"g":204,"l":90,"y":29.6,"a":1983.6,"b":1989.4},{"g":204,"l":90,"y":28.8,"a":1983.8,"b":1989.2},{"g":204,"l":90,"y":27.8,"a":1984.6,"b":1988.4},{"g":204,"l":90,"y":27.15,"a":1985.5,"b":1987.5},{"g":204,"l":90,"y":26.7,"a":1986.5,"b":1986.5},
{"g":205,"l":90,"y":23,"a":1986.5,"b":1986.5},{"g":205,"l":90,"y":22.6,"a":1985.3,"b":1987.7},{"g":205,"l":90,"y":21.6,"a":1984.8,"b":1988.2},{"g":205,"l":90,"y":21,"a":1984.9,"b":1988.1},{"g":205,"l":90,"y":20,"a":1985.6,"b":1987.4},{"g":205,"l":90,"y":19.8,"a":1986.5,"b":1986.5},
{"g":206,"l":90,"y":24.9,"a":1986.5,"b":1986.5},{"g":206,"l":90,"y":24.8,"a":1986,"b":1987},{"g":206,"l":90,"y":24.7,"a":1986.5,"b":1986.5},
{"g":207,"l":90,"y":8.8,"a":1960,"b":1960},{"g":207,"l":90,"y":8.2,"a":1959.8,"b":1960.3},{"g":207,"l":90,"y":7.7,"a":1960,"b":1960},
{"g":208,"l":90,"y":8.8,"a":2013,"b":2013},{"g":208,"l":90,"y":8.2,"a":2012.7,"b":2013.2},{"g":208,"l":90,"y":7.7,"a":2013,"b":2013},
{"g":210,"l":110,"y":31.5,"a":1955,"b":1956},{"g":210,"l":110,"y":30.7,"a":1955,"b":1956.7},{"g":210,"l":110,"y":30.2,"a":1955,"b":1957},{"g":210,"l":110,"y":29.55,"a":1955,"b":1957.85},{"g":210,"l":110,"y":29,"a":1955,"b":1957.4},{"g":210,"l":110,"y":28.6,"a":1956.5,"b":1957},
{"g":211,"l":110,"y":31.5,"a":2017,"b":2018},{"g":211,"l":110,"y":30.7,"a":2016.3,"b":2018},{"g":211,"l":110,"y":30.2,"a":2016,"b":2018},{"g":211,"l":110,"y":29.55,"a":2015.15,"b":2018},{"g":211,"l":110,"y":29,"a":2015.6,"b":2018},{"g":211,"l":110,"y":28.6,"a":2016,"b":2016.5},
{"g":212,"l":110,"y":32.3,"a":1986.5,"b":1986.5},{"g":212,"l":110,"y":32.2,"a":1985.95,"b":1987.05},{"g":212,"l":110,"y":31,"a":1985.9,"b":1987.1},{"g":212,"l":110,"y":30.3,"a":1985,"b":1988},{"g":212,"l":110,"y":29.6,"a":1984.7,"b":1988.3},{"g":212,"l":110,"y":29,"a":1985.2,"b":1987.8},{"g":212,"l":110,"y":28.7,"a":1986.5,"b":1986.5},
{"g":220,"l":120,"y":30.7,"a":1955,"b":1956},{"g":220,"l":120,"y":30.4,"a":1955,"b":1956.2},{"g":220,"l":120,"y":30,"a":1955,"b":1956},
{"g":221,"l":120,"y":30.7,"a":2017,"b":2018},{"g":221,"l":120,"y":30.4,"a":2016.8,"b":2018},{"g":221,"l":120,"y":30,"a":2017,"b":2018}
]},"mark":{"type":"area","orient":"horizontal","interpolate":"monotone","clip":true,"strokeWidth":1},"encoding":{"y":{"field":"y","type":"quantitative"},"x":{"field":"a","type":"quantitative","stack":null},"x2":{"field":"b"},"detail":{"field":"g"},"fill":{"field":"l","type":"nominal","legend":null,"scale":{"domain":[-110,-90,-70,-50,-30,-10,-1,0,1,10,30,50,70,90,110,120],"range":["#00ff00","#12ff12","#22ff22","#36ff36","#4aff4a","#5eff5e","#72ff72","#72ff72","#72ff72","#86ff86","#98ff98","#a8ffa8","#bcffbc","#d4ffd4","#e6ffe6","#f2fff2"]}},"stroke":{"field":"l","type":"nominal","legend":null,"scale":{"domain":[-110,-90,-70,-50,-30,-10,-1,0,1,10,30,50,70,90,110,120],"range":["#000000","#000000","#0000ff","#0000ff","#0000ff","#0000ff","#0000ff","#ff0000","transparent","#ff0000","#ff0000","#ff0000","#ff0000","#ff0000","#ff0000","#ff0000"]}},"strokeDash":{"field":"l","type":"nominal","legend":null,"scale":{"domain":[-110,-90,-70,-50,-30,-10,-1,0,1,10,30,50,70,90,110,120],"range":[[18,14],[18,14],[18,14],[18,14],[18,14],[18,14],[18,14],[1,0],[1,0],[1,0],[1,0],[1,0],[1,0],[1,0],[1,0],[1,0]]}}}},
{"data":{"values":[{"x":1955,"x2":1956,"y":0,"y2":40}]},"mark":{"type":"rect","fill":"white"},"encoding":{"x":{"field":"x","type":"quantitative"},"x2":{"field":"x2"},"y":{"field":"y","type":"quantitative"},"y2":{"field":"y2"}}},
{"data":{"values":[{"s":"a","x":1955.9,"y":30.05},{"s":"a","x":2015.9,"y":30.25},{"s":"b","x":1971.1,"y":21.23},{"s":"b","x":2002.6,"y":21.2},{"s":"c","x":1976.5,"y":14.02},{"s":"c","x":1997.6,"y":14},{"s":"d","x":1956.5,"y":8.12},{"s":"d","x":1978.3,"y":8.03},{"s":"e","x":1995.5,"y":8.23},{"s":"e","x":2015.7,"y":8.23},{"s":"f","x":1979.9,"y":5.91},{"s":"f","x":1994.2,"y":5.9}]},"mark":{"type":"line","color":"#ff00ff","strokeWidth":10,"strokeCap":"round"},"encoding":{"x":{"field":"x","type":"quantitative"},"y":{"field":"y","type":"quantitative"},"detail":{"field":"s"}}},
{"data":{"values":[{"x":1962.2,"y":32.2,"t":"30","r":100},{"x":1975.3,"y":27.4,"t":"-70","r":-85},{"x":1992.7,"y":33.8,"t":"30","r":-90},{"x":2010.3,"y":30.5,"t":"30","r":95},{"x":2002.1,"y":26.4,"t":"-70","r":-20},{"x":1982.4,"y":19.5,"t":"30","r":70},{"x":1976,"y":19,"t":"-70","r":-20},{"x":1999.5,"y":19.7,"t":"-70","r":90},{"x":2001.3,"y":16.9,"t":"-70","r":45},{"x":1973.5,"y":15,"t":"-70","r":-70},{"x":1963.2,"y":13.2,"t":"30","r":25},{"x":1978,"y":11.4,"t":"30","r":55},{"x":1990.6,"y":12.8,"t":"30","r":90},{"x":2005.6,"y":14,"t":"30","r":-80},{"x":1961.5,"y":8.6,"t":"30","r":-90},{"x":1966.6,"y":8,"t":"30","r":-80},{"x":2004.1,"y":7.1,"t":"30","r":50},{"x":1982.5,"y":6.1,"t":"30","r":85},{"x":1990.3,"y":6.1,"t":"30","r":-85}]},"mark":{"type":"text","font":"Liberation Sans","fontWeight":"bold","fontSize":64,"color":"black","align":"center","baseline":"middle"},"encoding":{"x":{"field":"x","type":"quantitative"},"y":{"field":"y","type":"quantitative"},"text":{"field":"t"},"angle":{"field":"r","type":"quantitative","scale":null}}},
{"data":{"values":[{"x":1955,"x2":2016,"y":0,"y2":40}]},"mark":{"type":"rect","fill":"transparent","stroke":"black","strokeWidth":2},"encoding":{"x":{"field":"x","type":"quantitative"},"x2":{"field":"x2"},"y":{"field":"y","type":"quantitative"},"y2":{"field":"y2"}}}
]},{"layer":[
{"data":{"values":[{"i":0,"j":1},{"i":1,"j":2},{"i":2,"j":3},{"i":3,"j":4},{"i":4,"j":5},{"i":5,"j":6},{"i":6,"j":7},{"i":7,"j":8},{"i":8,"j":9},{"i":9,"j":10},{"i":10,"j":11},{"i":11,"j":12},{"i":12,"j":13},{"i":13,"j":14},{"i":14,"j":15}]},"mark":{"type":"rect","stroke":"black","strokeWidth":2,"x":2876.3,"x2":2961.7},"encoding":{"y":{"field":"i","type":"quantitative","axis":null,"scale":{"domain":[0,15],"range":[1803,28.3],"nice":false,"zero":false}},"y2":{"field":"j"},"fill":{"field":"i","type":"nominal","legend":null,"scale":{"domain":[0,1,2,3,4,5,6,7,8,9,10,11,12,13,14],"range":["#00ff00","#12ff12","#22ff22","#36ff36","#4aff4a","#5eff5e","#72ff72","#86ff86","#98ff98","#a8ffa8","#bcffbc","#d4ffd4","#e6ffe6","#f2fff2","#ffffff"]}}}},
{"data":{"values":[{"i":0,"t":"-120"},{"i":1,"t":"-110"},{"i":2,"t":"-90"},{"i":3,"t":"-70"},{"i":4,"t":"-50"},{"i":5,"t":"-30"},{"i":6,"t":"-10"},{"i":7,"t":"10"},{"i":8,"t":"30"},{"i":9,"t":"50"},{"i":10,"t":"70"},{"i":11,"t":"90"},{"i":12,"t":"110"},{"i":13,"t":"120"},{"i":14,"t":"130"}]},"mark":{"type":"text","font":"Liberation Sans Narrow","fontSize":56,"color":"black","align":"left","baseline":"middle","x":2978},"encoding":{"y":{"field":"i","type":"quantitative","axis":null},"text":{"field":"t"}}}
],"resolve":{"scale":{"fill":"independent"}}}],"resolve":{"scale":{"x":"independent","y":"independent","fill":"independent"}}}
